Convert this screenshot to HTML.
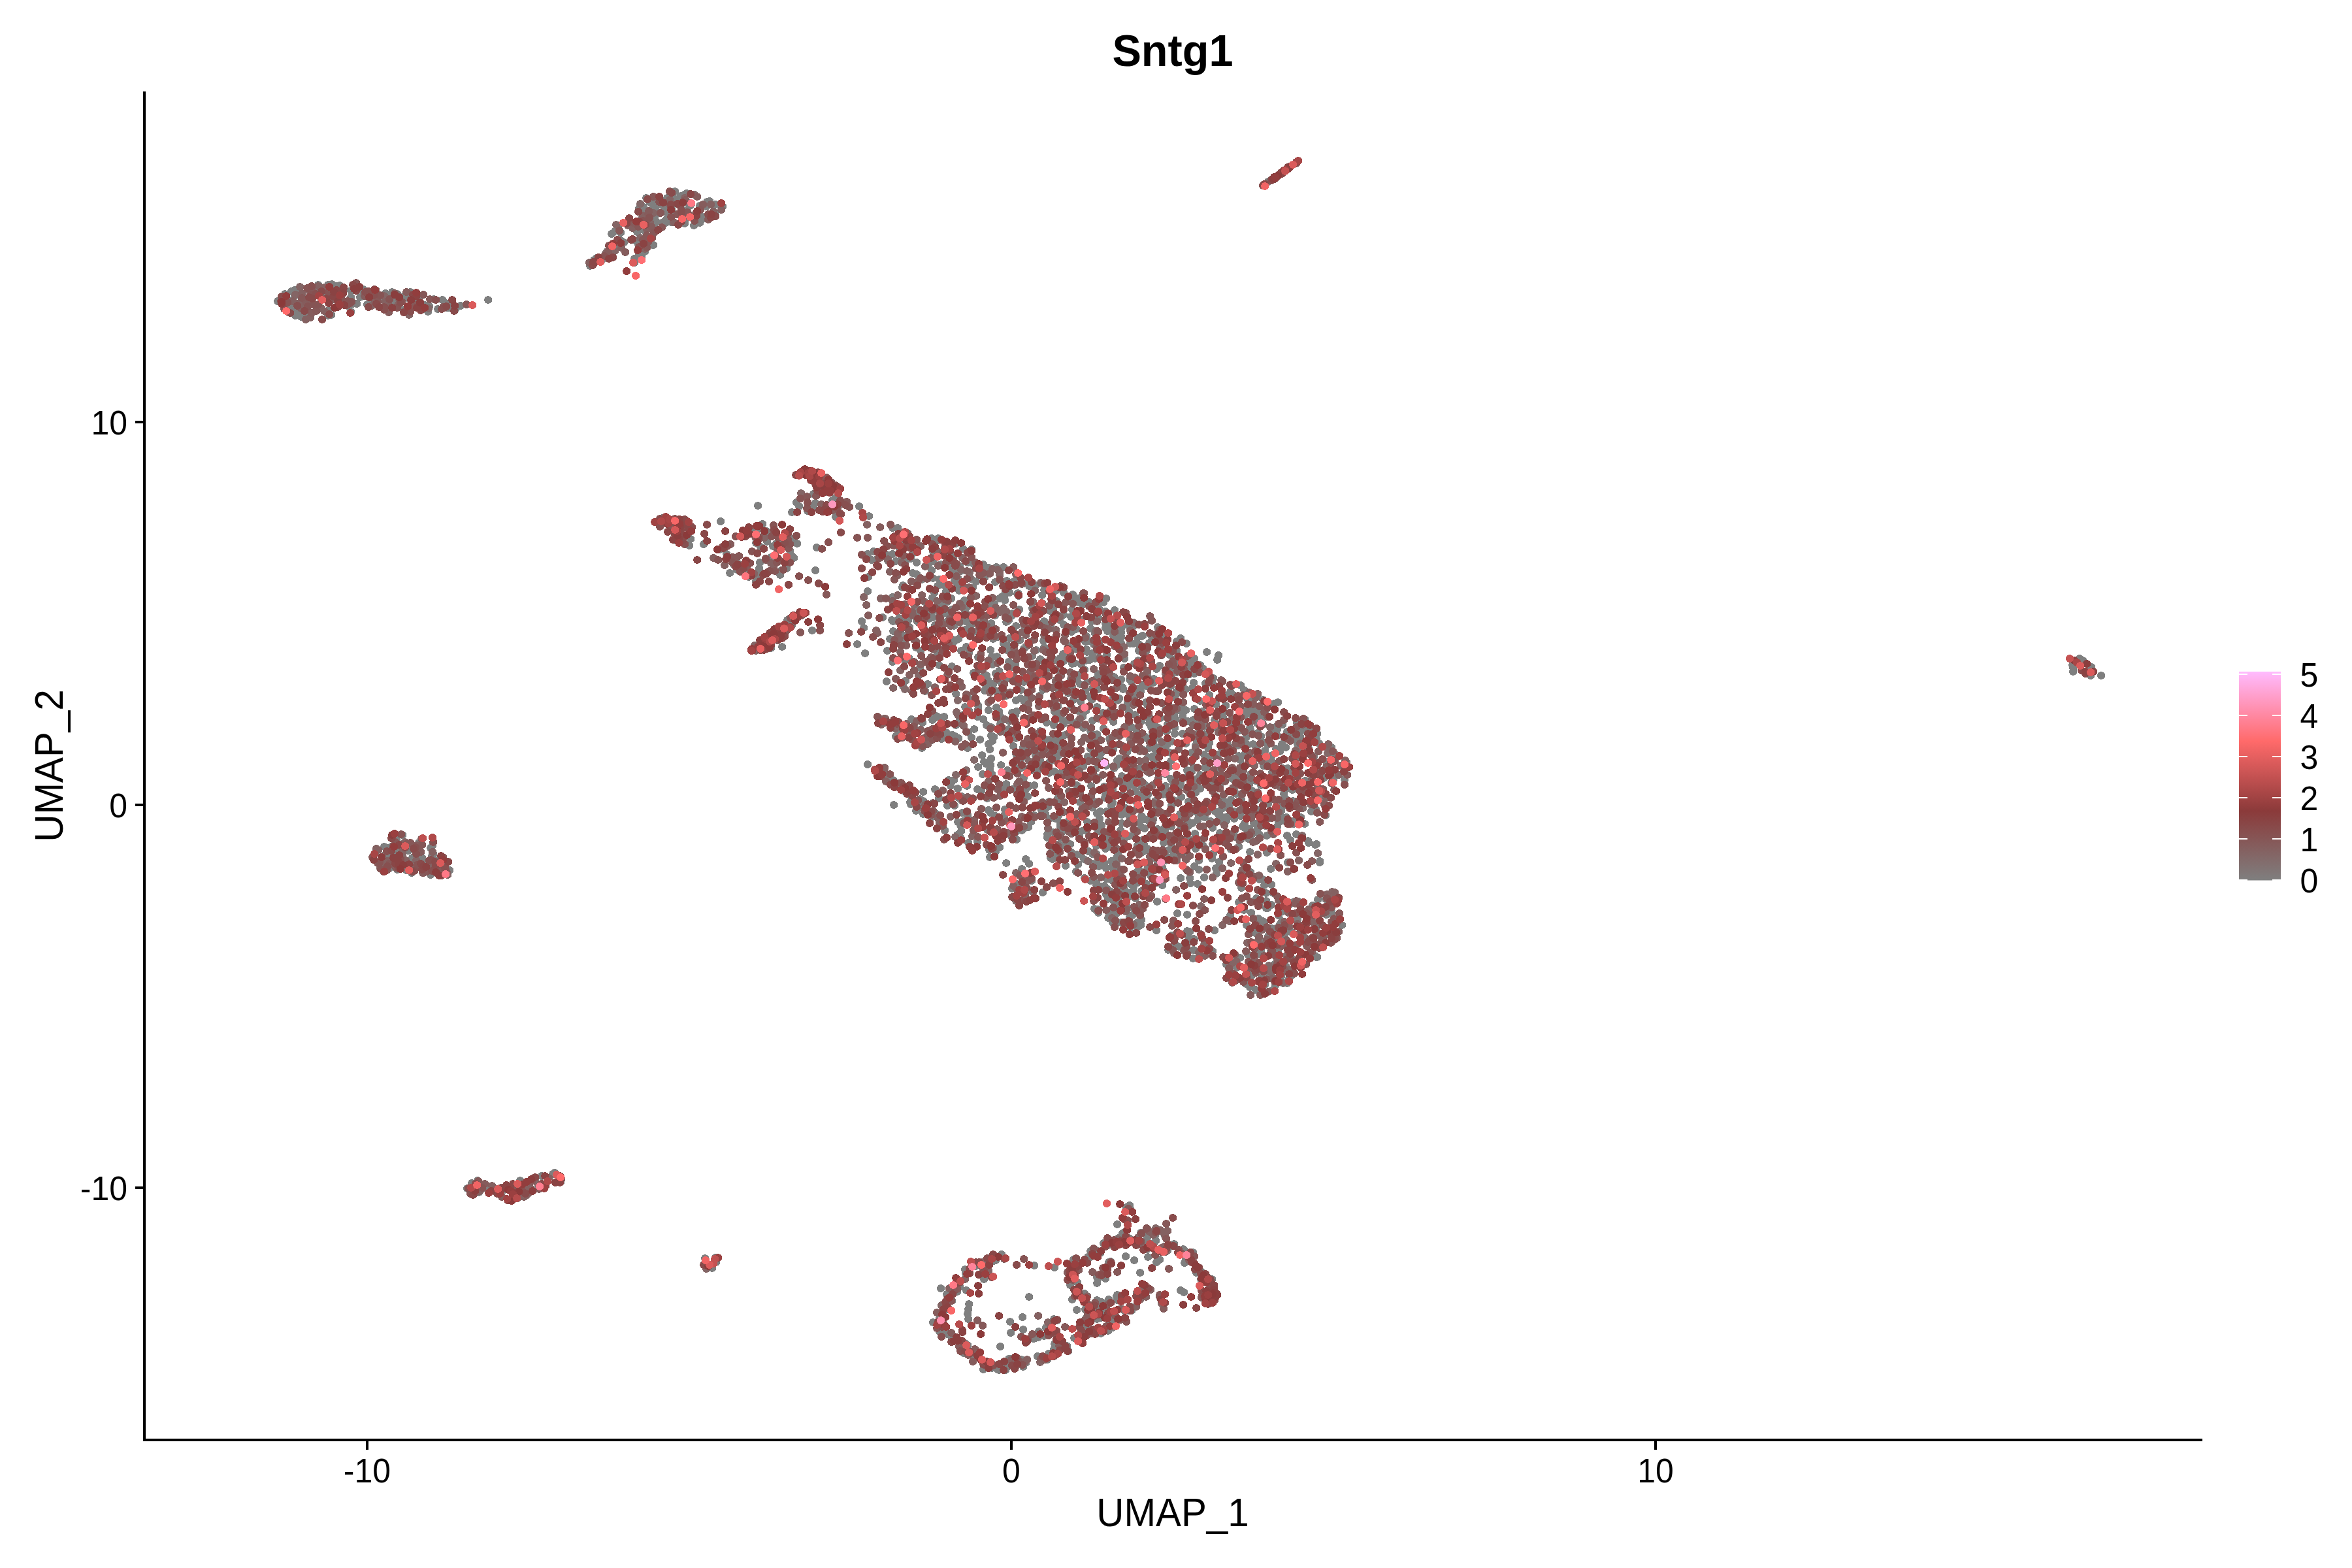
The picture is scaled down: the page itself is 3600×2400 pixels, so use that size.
<!DOCTYPE html>
<html lang="en"><head><meta charset="utf-8"><title>Sntg1</title>
<style>html,body{margin:0;padding:0;background:#fff}svg{display:block}</style></head>
<body>
<svg width="3600" height="2400" viewBox="0 0 3600 2400">
<rect x="0" y="0" width="3600" height="2400" fill="#fff"/>
<g fill="#000" shape-rendering="crispEdges">
<rect x="219" y="140" width="4" height="2066"/>
<rect x="219" y="2202" width="3152" height="4"/>
<rect x="207" y="644" width="12" height="4"/>
<rect x="207" y="1230" width="12" height="4"/>
<rect x="207" y="1816" width="12" height="4"/>
<rect x="560" y="2206" width="4" height="12.5"/>
<rect x="1546" y="2206" width="4" height="12.5"/>
<rect x="2532" y="2206" width="4" height="12.5"/>
</g>
<g font-family="'Liberation Sans', Arial, sans-serif" fill="#000">
<text transform="translate(1795 101) scale(1 1.04)" font-size="66.67" text-anchor="middle" font-weight="bold">Sntg1</text>
<text transform="translate(195 664.6) scale(1 1.04)" font-size="50" text-anchor="end">10</text>
<text transform="translate(195 1250.6) scale(1 1.04)" font-size="50" text-anchor="end">0</text>
<text transform="translate(195 1836.6) scale(1 1.04)" font-size="50" text-anchor="end">-10</text>
<text transform="translate(562 2269) scale(1 1.04)" font-size="50" text-anchor="middle">-10</text>
<text transform="translate(1548 2269) scale(1 1.04)" font-size="50" text-anchor="middle">0</text>
<text transform="translate(2534 2269) scale(1 1.04)" font-size="50" text-anchor="middle">10</text>
<text transform="translate(1795 2336) scale(1 1.04)" font-size="58.33" text-anchor="middle">UMAP_1</text>
<text transform="translate(95.5 1172) rotate(-90) scale(1 1.04)" font-size="58.33" text-anchor="middle">UMAP_2</text>
<text transform="translate(3520.5 1365.8) scale(1 1.04)" font-size="50" text-anchor="start">0</text>
<text transform="translate(3520.5 1302.8) scale(1 1.04)" font-size="50" text-anchor="start">1</text>
<text transform="translate(3520.5 1239.8) scale(1 1.04)" font-size="50" text-anchor="start">2</text>
<text transform="translate(3520.5 1176.8) scale(1 1.04)" font-size="50" text-anchor="start">3</text>
<text transform="translate(3520.5 1113.8) scale(1 1.04)" font-size="50" text-anchor="start">4</text>
<text transform="translate(3520.5 1050.8) scale(1 1.04)" font-size="50" text-anchor="start">5</text>
</g>
<defs><linearGradient id="lg" x1="0" y1="1" x2="0" y2="0"><stop offset="0" stop-color="#7f7f7f"/><stop offset="0.3333" stop-color="#8b3a3a"/><stop offset="0.6667" stop-color="#ff6a6a"/><stop offset="1" stop-color="#ffbbff"/></linearGradient></defs>
<rect x="3427" y="1028" width="64" height="319.5" fill="url(#lg)"/>
<g fill="#fff" shape-rendering="crispEdges">
<rect x="3427" y="1346" width="12.8" height="2"/>
<rect x="3478.2" y="1346" width="12.8" height="2"/>
<rect x="3427" y="1283" width="12.8" height="2"/>
<rect x="3478.2" y="1283" width="12.8" height="2"/>
<rect x="3427" y="1220" width="12.8" height="2"/>
<rect x="3478.2" y="1220" width="12.8" height="2"/>
<rect x="3427" y="1157" width="12.8" height="2"/>
<rect x="3478.2" y="1157" width="12.8" height="2"/>
<rect x="3427" y="1094" width="12.8" height="2"/>
<rect x="3478.2" y="1094" width="12.8" height="2"/>
<rect x="3427" y="1031" width="12.8" height="2"/>
<rect x="3478.2" y="1031" width="12.8" height="2"/>
</g>
<g fill="none" stroke-width="12" stroke-linecap="round" shape-rendering="crispEdges">
<path stroke="#7f7f7f" d="M1595 923h.1M598 1324h.1M1807 977h.1M1640 1946h.1M1524 1303h.1M1998 1195h.1M1549 1360h.1M829 1800h.1M1095 327h.1M999 375h.1M1913 1114h.1M1931 1100h.1M1520 978h.1M1889 1112h.1M1647 1334h.1M955 371h.1M1881 1144h.1M1826 1242h.1M1773 1057h.1M1778 972h.1M1596 1038h.1M1227 726h.1M2037 1427h.1M1482 2004h.1M788 1819h.1M1720 1896h.1M524 449h.1M1510 1034h.1M787 1818h.1M1648 2005h.1M1366 848h.1M1648 1202h.1M1577 1149h.1M1773 1114h.1M2015 1465h.1M1546 2023h.1M1921 1428h.1M661 1318h.1M1899 1249h.1M1386 858h.1M1394 855h.1M641 460h.1M978 387h.1M1556 1285h.1M903 407h.1M1807 1269h.1M1947 1156h.1M1102 841h.1M1324 1000h.1M1991 1251h.1M1947 1182h.1M931 389h.1M1157 831h.1M1806 1293h.1M1832 1104h.1M982 394h.1M624 1296h.1M1926 1101h.1M941 354h.1M1867 1275h.1M1810 1123h.1M1369 1198h.1M1685 2017h.1M1861 1329h.1M1898 1466h.1M1459 856h.1M1487 1129h.1M1822 1930h.1M1793 1298h.1M502 483h.1M1784 1086h.1M1480 929h.1M1283 774h.1M1489 899h.1M1879 1064h.1M1682 932h.1M1402 991h.1M1215 854h.1M1796 1309h.1M616 1292h.1M1837 1073h.1M1926 1516h.1M1566 1144h.1M1580 931h.1M1524 1249h.1M1754 1366h.1M1630 1295h.1M1540 1065h.1M1801 996h.1M1337 844h.1M1188 832h.1M815 1804h.1M1715 1341h.1M1248 873h.1M1860 1218h.1M1537 2084h.1M1491 967h.1M1554 1094h.1M1827 1437h.1M1855 1958h.1M1870 1091h.1M1686 1263h.1M1945 1199h.1M1820 1455h.1M1728 1390h.1M1540 1206h.1M1539 1121h.1M667 1317h.1M1647 1157h.1M1947 1516h.1M1896 1381h.1M1186 973h.1M1816 1190h.1M1799 1064h.1M662 1294h.1M1702 1398h.1M1990 1232h.1M1541 889h.1M1675 1391h.1M1845 1124h.1M1758 1009h.1M1662 2018h.1M1946 1385h.1M1859 1424h.1M1436 824h.1M1953 1423h.1M1902 1265h.1M1940 1390h.1M1867 1109h.1M1890 1271h.1M1004 316h.1M1908 1196h.1M1564 1330h.1M1090 1941h.1M1946 1164h.1M1716 975h.1M1022 326h.1M517 462h.1M1599 1245h.1M1180 853h.1M1710 1874h.1M1807 1344h.1M1710 1284h.1M1970 1279h.1M1890 1269h.1M1071 341h.1M1086 308h.1M1530 2091h.1M1664 1044h.1M1679 1124h.1M1394 1231h.1M1938 1390h.1M1930 1456h.1M1668 1010h.1M1515 1147h.1M1985 1106h.1M1936 1507h.1M537 445h.1M1650 1980h.1M1963 1395h.1M1481 1145h.1M1938 1367h.1M659 1298h.1M537 455h.1M1554 1274h.1M1926 1406h.1M1794 1432h.1M601 1302h.1M1718 1888h.1M1554 1016h.1M1779 1355h.1M1807 1196h.1M1963 1256h.1M1786 1283h.1M438 468h.1M1607 1145h.1M1591 1142h.1M1827 1454h.1M1765 1045h.1M1678 1352h.1M1437 932h.1M1683 1133h.1M1817 1179h.1M1117 877h.1M1895 1119h.1M705 468h.1M1615 1146h.1M1967 1222h.1M1766 1039h.1M1712 1895h.1M1000 316h.1M631 1313h.1M1485 954h.1M446 446h.1M1444 1124h.1M1792 1192h.1M2040 1183h.1M1049 297h.1M1141 863h.1M1633 2060h.1M1674 986h.1M1455 977h.1M1386 949h.1M1914 1118h.1M647 1329h.1M1570 2086h.1M1483 1254h.1M3201 1021h.1M1473 1244h.1M1732 1428h.1M2009 1386h.1M1437 1098h.1M1613 1108h.1M1034 305h.1M1278 763h.1M1721 1362h.1M1482 1121h.1M2049 1186h.1M1648 994h.1M1829 1276h.1M1478 2058h.1M1451 2002h.1M1167 802h.1M1977 1427h.1M628 447h.1M1957 1259h.1M1949 1485h.1M1428 844h.1M1827 1045h.1M1553 986h.1M1617 1311h.1M1585 896h.1M1867 1248h.1M987 385h.1M855 1800h.1M1731 1255h.1M1949 1367h.1M1670 1203h.1M1658 1173h.1M1964 1505h.1M1560 933h.1M1755 1223h.1M1856 1232h.1M1843 1155h.1M1106 316h.1M1811 1912h.1M1693 916h.1M1976 1194h.1M1533 1920h.1M1437 1222h.1M1669 1915h.1M1609 1131h.1M983 333h.1M2003 1290h.1M1530 1031h.1M630 1336h.1M1677 1189h.1M1883 1401h.1M1376 838h.1M989 336h.1M1567 957h.1M1773 1184h.1M1505 864h.1M1545 907h.1M2041 1193h.1M1730 1072h.1M1592 1231h.1M1972 1234h.1M2037 1399h.1M1048 821h.1M1878 1137h.1M1497 1174h.1M1600 2081h.1M1830 1299h.1M1828 1438h.1M525 440h.1M1016 317h.1M1644 2048h.1M1893 1481h.1M1818 1257h.1M1471 1272h.1M599 1296h.1M531 465h.1M1817 1026h.1M1452 1194h.1M1779 1328h.1M1788 1454h.1M1529 2097h.1M1496 1097h.1M1933 1071h.1M1954 1464h.1M1621 1292h.1M1408 1223h.1M1592 1165h.1M980 321h.1M1649 1963h.1M1986 1139h.1M1212 784h.1M1964 1230h.1M1564 1175h.1M1822 1215h.1M1931 1495h.1M1793 1135h.1M1678 1354h.1M1672 1225h.1M1442 2012h.1M1884 1300h.1M1950 1120h.1M1677 1040h.1M1393 1228h.1M1654 1074h.1M1095 313h.1M1681 1055h.1M1807 1916h.1M1236 782h.1M1403 950h.1M1856 1267h.1M1566 2035h.1M1756 1912h.1M1465 1278h.1M2018 1387h.1M1844 1988h.1M1730 1353h.1M1730 1094h.1M1909 1069h.1M1521 1930h.1M1689 1115h.1M1700 1931h.1M1389 816h.1M1369 821h.1M1978 1209h.1M1917 1276h.1M1639 1257h.1M1602 1106h.1M1717 1247h.1M1736 1929h.1M1806 1915h.1M624 456h.1M3172 1018h.1M1925 1122h.1M1394 968h.1M451 444h.1M1759 1145h.1M576 450h.1M1819 1227h.1M1049 335h.1M1697 1932h.1M1469 1101h.1M1831 1202h.1M1863 1010h.1M1525 1083h.1M1618 1097h.1M1534 913h.1M2027 1220h.1M1406 941h.1M1830 1213h.1M1618 2021h.1M1963 1109h.1M1426 873h.1M1706 934h.1M1655 1017h.1M1455 847h.1M2039 1156h.1M1946 1421h.1M1735 985h.1M1197 990h.1M1475 2071h.1M1783 1266h.1M1904 1089h.1M1209 954h.1M1680 2001h.1M1500 951h.1M1900 1215h.1M1462 1127h.1M1697 1989h.1M1749 1048h.1M2019 1208h.1M1786 1140h.1M1641 1148h.1M1703 2032h.1M1913 1093h.1M1747 974h.1M1209 843h.1M1764 1258h.1M1616 1152h.1M1558 1179h.1M1807 1975h.1M1430 907h.1M1474 840h.1M651 1323h.1M1571 1159h.1M1888 1177h.1M2029 1376h.1M1351 1180h.1M1505 1936h.1M1623 1259h.1M559 453h.1M1710 1164h.1M1714 1904h.1M1939 1279h.1M1793 1265h.1M1778 1003h.1M1328 1170h.1M1685 1069h.1M1716 985h.1M1710 1990h.1M1628 1012h.1M1555 1072h.1M466 457h.1M1640 992h.1M1543 996h.1M1366 1013h.1M1723 1419h.1M1713 1161h.1M1683 981h.1M1838 1946h.1M1519 1017h.1M1612 931h.1M1739 1117h.1M1856 1456h.1M1776 1099h.1M1905 1095h.1M619 453h.1M1783 1272h.1M1931 1512h.1M1756 1033h.1M1913 1283h.1M1441 2009h.1M1840 1089h.1M1056 315h.1M1818 1285h.1M1686 1993h.1M1730 1132h.1M1755 1203h.1M1497 1080h.1M1513 1139h.1M1463 1062h.1M1870 1146h.1M1708 985h.1M1696 1038h.1M1820 1442h.1M1729 1853h.1M1538 1239h.1M1795 1434h.1M1545 1104h.1M1667 1160h.1M980 374h.1M1736 1193h.1M978 391h.1M1580 1004h.1M1740 1981h.1M1539 906h.1M1511 2092h.1M1780 1216h.1M1194 880h.1M1422 947h.1M1941 1230h.1M1728 1895h.1M1607 1253h.1M1723 1237h.1M681 1329h.1M1621 2046h.1M1509 1049h.1M1637 1960h.1M1787 1217h.1M1465 1977h.1M1623 1265h.1M1418 1240h.1M1751 1200h.1M1245 777h.1M1669 962h.1M682 464h.1M1826 1102h.1M1973 1385h.1M1572 1067h.1M1626 2062h.1M1738 1375h.1M1733 1401h.1M1513 1240h.1M1496 1208h.1M1746 1982h.1M1826 1917h.1M1787 1109h.1M1381 899h.1M1491 1031h.1M1509 1169h.1M1785 1885h.1M1767 1173h.1M685 471h.1M1619 1157h.1M1433 1096h.1M1964 1233h.1M1961 1241h.1M1716 968h.1M1472 971h.1M1809 1255h.1M1760 1047h.1M1672 1998h.1M591 1308h.1M1524 1031h.1M1540 1200h.1M1696 2037h.1M1922 1515h.1M1552 972h.1M1270 749h.1M1819 1427h.1M1815 1310h.1M1944 1252h.1M1928 1281h.1M1460 1194h.1M1547 2040h.1M1892 1215h.1M1938 1379h.1M1663 1272h.1M1457 1020h.1M1898 1163h.1M1801 1029h.1M1477 964h.1M1795 1197h.1M1537 912h.1M1729 1845h.1M1617 1097h.1M540 465h.1M1128 872h.1M1762 1113h.1M1015 340h.1M1653 1933h.1M1771 1303h.1M1942 1488h.1M1968 1446h.1M1540 952h.1M1743 996h.1M1769 1899h.1M1450 951h.1M1701 1277h.1M490 440h.1M1973 1498h.1M1997 1261h.1M1756 1299h.1M1411 1145h.1M1486 914h.1M1689 1273h.1M1541 1241h.1M1601 1132h.1M1478 1949h.1M1912 1200h.1M1851 1966h.1M1762 1248h.1M1512 1041h.1M1927 1385h.1M1936 1156h.1M1790 1002h.1M1637 920h.1M2014 1239h.1M1737 1132h.1M1740 1978h.1M1426 1133h.1M2061 1167h.1M1706 1141h.1M1474 2060h.1M1369 979h.1M1969 1251h.1M1607 962h.1M1393 974h.1M1643 1928h.1M625 1302h.1M909 398h.1M1416 1058h.1M1667 2015h.1M1800 1447h.1M796 1807h.1M1746 1416h.1M1578 898h.1M1630 1125h.1M1377 1205h.1M1460 863h.1M1180 992h.1M1453 1125h.1M1516 1012h.1M1688 1321h.1M1886 1184h.1M1795 1449h.1M1916 1229h.1M1479 1975h.1M1603 2032h.1M1647 963h.1M1905 1267h.1M1262 734h.1M1351 945h.1M1647 1174h.1M1485 959h.1M1729 1404h.1M1904 1393h.1M1531 1097h.1M1448 2040h.1M1664 998h.1M1548 943h.1M1271 740h.1M1808 1081h.1M974 341h.1M1737 1094h.1M1605 993h.1M1792 1050h.1M1692 1215h.1M1183 836h.1M2020 1320h.1M2012 1227h.1M1845 1957h.1M1876 1080h.1M618 474h.1M1934 1262h.1M1457 1991h.1M1965 1215h.1M1705 1036h.1M1835 1331h.1M1741 1351h.1M1765 1138h.1M1397 847h.1M1809 1049h.1M1443 895h.1M448 464h.1M1780 1332h.1M1702 1326h.1M1555 1154h.1M1558 908h.1M1516 995h.1M1605 2072h.1M1471 1284h.1M1887 1209h.1M1660 1980h.1M1630 1008h.1M1843 1106h.1M1928 1346h.1M1902 1172h.1M1889 1253h.1M1839 1108h.1M1548 2088h.1M1713 1127h.1M1732 1044h.1M1837 1018h.1M1176 821h.1M1619 1222h.1M1583 1248h.1M1779 1330h.1M1881 1233h.1M1513 1087h.1M1376 813h.1M1905 1155h.1M1721 1886h.1M1774 1145h.1M1757 1216h.1M1163 861h.1M659 1339h.1M1490 2076h.1M1662 1011h.1M1446 978h.1M1444 994h.1M1669 1119h.1M600 447h.1M1681 1318h.1M1450 1233h.1M1357 1043h.1M1378 831h.1M1000 375h.1M1554 1352h.1M1564 1271h.1M1980 1261h.1M1556 2090h.1M1623 1240h.1M1243 965h.1M1420 1047h.1M677 459h.1M1671 2035h.1M1821 1426h.1M1480 2066h.1M1142 880h.1M1815 1087h.1M1997 1114h.1M1730 1851h.1M1077 833h.1M1466 1207h.1M1531 2061h.1M1851 1990h.1M1505 1101h.1M1970 1207h.1M1158 880h.1M788 1821h.1M1731 2000h.1M1982 1256h.1M1848 1177h.1M1450 938h.1M1536 985h.1M1690 1356h.1M1681 1032h.1M568 463h.1M1851 1064h.1M1740 1335h.1M1714 1120h.1M1481 2011h.1M1096 1932h.1M1640 988h.1M1690 1282h.1M1454 868h.1M1035 328h.1M1692 2008h.1M1702 1073h.1M1933 1410h.1M985 352h.1M1904 1056h.1M1797 1021h.1M1527 975h.1M1813 1040h.1M1212 957h.1M1594 1176h.1M1837 1186h.1M1466 895h.1M1768 1226h.1M3173 1022h.1M1450 921h.1M1547 2080h.1M1413 1212h.1M1385 983h.1M1442 922h.1M1748 1286h.1M1988 1380h.1M1472 1225h.1M2004 1460h.1M1197 831h.1M1841 1244h.1M1937 1087h.1M1887 1100h.1M1905 1260h.1M1521 1128h.1M1368 1232h.1M1474 1257h.1M1968 1479h.1M1789 1174h.1M1634 1102h.1M1975 1188h.1M1212 825h.1M1833 1353h.1M1834 1246h.1M1629 1057h.1M1519 1134h.1M1619 1129h.1M1543 2083h.1M1811 1024h.1M1927 1277h.1M1864 1114h.1M1662 2005h.1M2001 1397h.1M1582 1141h.1M1679 1994h.1M589 1309h.1M1836 1021h.1M1854 1991h.1M1712 973h.1M1440 1972h.1M443 461h.1M1640 967h.1M1567 993h.1M1592 1009h.1M1704 973h.1M1816 985h.1M1487 841h.1M1442 975h.1M1550 939h.1M1924 1270h.1M1717 1360h.1M1011 803h.1M655 477h.1M1920 1162h.1M1312 986h.1M1357 849h.1M1597 981h.1M502 436h.1M1540 1039h.1M1751 1293h.1M1491 1278h.1M1831 1124h.1M1511 1952h.1M1747 1249h.1M1872 1099h.1M1833 1467h.1M1625 1182h.1M715 1819h.1M1371 1127h.1M2030 1166h.1M1419 934h.1M1705 1333h.1M1991 1157h.1M1583 1937h.1M1604 1235h.1M1448 1121h.1M1690 1204h.1M1704 1147h.1M608 450h.1M631 1325h.1M1815 1138h.1M1669 1348h.1M1868 1222h.1M1626 1273h.1M607 1284h.1M1716 1412h.1M1766 1903h.1M1623 1029h.1M1529 1089h.1M1856 1047h.1M1824 1152h.1M1676 1008h.1M1922 1238h.1M1875 1227h.1M1757 1924h.1M1553 1037h.1M1057 825h.1M1752 1268h.1M1648 1308h.1M1587 1181h.1M1246 757h.1M1851 1137h.1M650 467h.1M1554 1175h.1M1710 1982h.1M1014 793h.1M1351 1183h.1M1901 1138h.1M1173 813h.1M586 454h.1M1682 1168h.1M1955 1126h.1M1545 977h.1M1515 1312h.1M1784 1119h.1M1741 1294h.1M1503 1156h.1M1644 1938h.1M1804 1017h.1M1490 1030h.1M1828 1031h.1M1480 1203h.1M1705 975h.1M1623 1007h.1M1719 1055h.1M1768 1102h.1M1365 1108h.1M1711 1072h.1M1172 977h.1M1867 1203h.1M1463 1110h.1M1639 944h.1M646 1316h.1M1567 893h.1M946 349h.1M1741 976h.1M1220 832h.1M3173 1028h.1M950 356h.1M1620 1248h.1M1021 334h.1M1668 1066h.1M1727 1224h.1M1825 1053h.1M1391 1007h.1M1668 2002h.1M1735 1357h.1M1123 864h.1M1245 756h.1M1401 836h.1M1911 1284h.1M913 395h.1M1915 1506h.1M1641 933h.1M1786 1302h.1M1966 1433h.1M1959 1150h.1M1755 1353h.1M1835 1317h.1M1735 1202h.1M1514 1301h.1M1648 916h.1M1467 978h.1M1959 1415h.1M1747 1408h.1M1693 1329h.1M1849 1145h.1M612 1307h.1M1700 1087h.1M1557 1214h.1M1219 769h.1M1832 1192h.1M1494 890h.1M1538 1060h.1M1754 997h.1M1623 1129h.1M1190 962h.1M1661 1057h.1M1717 1260h.1M1701 1099h.1M1567 1073h.1M1628 941h.1M976 372h.1M1926 1090h.1M1896 1296h.1M1859 1981h.1M1158 878h.1M1250 838h.1M1970 1121h.1M1562 1069h.1M1799 1009h.1M1607 935h.1M1579 1179h.1M1412 1106h.1M1935 1355h.1M1510 1110h.1M1865 1003h.1M1953 1146h.1M1941 278h.1M1636 1211h.1M1721 1008h.1M2038 1396h.1M2026 1191h.1M944 376h.1M1575 1037h.1M1908 1416h.1M1499 1933h.1M1769 1121h.1M1924 1461h.1M1160 774h.1M1731 2003h.1M1681 1392h.1M1540 990h.1M1617 920h.1M1696 939h.1M1734 959h.1M1740 1229h.1M1742 1011h.1M1641 1052h.1M1264 753h.1M1631 1325h.1M1544 949h.1M1767 1108h.1M1752 1254h.1M944 373h.1M1756 1894h.1M1404 1050h.1M1675 2004h.1M1672 1322h.1M1743 1180h.1M1733 1065h.1M971 402h.1M593 1301h.1M1033 827h.1M1962 1423h.1M3216 1034h.1M464 482h.1M1750 1907h.1M1431 1208h.1M1840 1113h.1M2010 1135h.1M1540 1321h.1M2042 1161h.1M2011 1409h.1M1762 973h.1M1764 1158h.1M1984 1277h.1M595 1314h.1M1692 954h.1M1728 1116h.1M1855 1982h.1M1002 335h.1M1592 1119h.1M1695 966h.1M1409 996h.1M1523 942h.1M1920 1086h.1M1051 296h.1M925 393h.1M1685 1357h.1M1932 1443h.1M1103 798h.1M1384 973h.1M1491 1116h.1M1864 1155h.1M601 461h.1M1825 1260h.1M2011 1158h.1M1833 1139h.1M1728 2006h.1M590 449h.1M1452 832h.1M1279 791h.1M1892 1138h.1M1506 1958h.1M1756 1079h.1M1415 921h.1M1735 1278h.1M1613 1110h.1M1614 1940h.1M1679 1964h.1M1728 1089h.1M1408 1022h.1M1790 1024h.1M1157 890h.1M1661 982h.1M1563 2081h.1M1716 1040h.1M1950 1077h.1M1678 1295h.1M1095 1925h.1M1716 961h.1M1542 951h.1M646 1313h.1M1428 2024h.1M1671 951h.1M1713 1069h.1M1562 1165h.1M747 459h.1M1642 1939h.1M597 1297h.1M537 477h.1M1567 1190h.1M1676 970h.1M1544 2091h.1M1676 1132h.1M1759 1107h.1M1693 1172h.1M1899 1049h.1M922 397h.1M608 1331h.1M1808 1220h.1M1700 1900h.1M1727 1204h.1M2038 1144h.1M1941 1433h.1M1882 1470h.1M1628 956h.1M1639 1039h.1M1518 2094h.1M1406 953h.1M1997 1101h.1M1756 1330h.1M1718 1052h.1M1588 2076h.1M1916 1474h.1M1033 293h.1M2017 1377h.1M1130 863h.1M1742 1054h.1M1488 1072h.1M1793 1432h.1M1411 939h.1M1745 1322h.1M1772 1269h.1M1679 925h.1M933 394h.1M1918 1139h.1M1503 1036h.1M2009 1118h.1M1184 973h.1M1395 1101h.1M1806 1060h.1M1797 1225h.1M1679 2019h.1M1665 2037h.1M1021 303h.1M1679 1082h.1M1455 978h.1M1979 1468h.1M1671 2035h.1M1694 1002h.1M1386 1042h.1M1071 315h.1M1831 1948h.1M1428 1101h.1M1667 1222h.1M1821 1215h.1M1672 1054h.1M1743 986h.1M1390 949h.1M1538 919h.1M1699 958h.1M1739 1239h.1M1427 915h.1M1854 1977h.1M1438 2038h.1M1530 1297h.1M1727 1194h.1M1577 1363h.1M2010 1230h.1M1793 1108h.1M1476 919h.1M1392 960h.1M1511 1270h.1M1590 2038h.1M1750 1366h.1M1732 1113h.1M1723 1170h.1M1542 1179h.1M1759 984h.1M1949 1477h.1M1614 1181h.1M1504 1185h.1M1679 1990h.1M1684 1242h.1M1537 1248h.1M461 485h.1M1844 1251h.1M1939 1305h.1M1457 933h.1M670 473h.1M1715 1194h.1M1786 1312h.1M1048 322h.1M1893 1282h.1M1737 1351h.1M1775 1019h.1M1657 1097h.1M1761 1340h.1M469 483h.1M1746 1887h.1M1028 320h.1M1871 1258h.1M1499 1934h.1M1885 1111h.1M1651 1249h.1M1929 1255h.1M1587 1153h.1M1823 1286h.1M1551 891h.1M1989 1152h.1M1859 1102h.1M1752 1886h.1M1382 896h.1M1824 1181h.1M1685 1153h.1M1413 1138h.1M1511 1930h.1M1986 1208h.1M1845 1046h.1M1807 1202h.1M858 1809h.1M1603 1023h.1M1585 2048h.1M1539 2097h.1M1895 1190h.1M1817 1025h.1M1940 1140h.1M1771 1380h.1M1931 1135h.1M1681 1397h.1M1334 857h.1M1365 949h.1M1982 1168h.1M1787 1914h.1M1875 1235h.1M1477 2056h.1M1526 1005h.1M1173 987h.1M1621 1059h.1M1452 1222h.1M1031 327h.1M1613 2065h.1M1159 811h.1M1691 1221h.1M819 1808h.1M1896 1105h.1M1319 951h.1M1952 1508h.1M1164 880h.1M1728 1367h.1M1653 1047h.1M1048 342h.1M1724 1848h.1M1208 951h.1M1749 973h.1M1412 1226h.1M661 1310h.1M1847 998h.1M1810 1096h.1M1518 1005h.1M1836 1287h.1M1788 1281h.1M1874 1090h.1M1703 1208h.1M1251 751h.1M746 1820h.1M1594 1247h.1M1594 1011h.1M1612 1274h.1M1692 936h.1M1701 2024h.1M1594 1128h.1M622 1332h.1M1461 889h.1M1578 1258h.1M1459 874h.1M1358 996h.1M1375 1199h.1M803 1827h.1M1694 1345h.1M1783 1892h.1M624 469h.1M1860 1242h.1M1911 1085h.1M1437 1018h.1M1930 1127h.1M1684 1361h.1M1696 1395h.1M3183 1008h.1M1616 1253h.1M1606 1227h.1M1395 1219h.1M1612 1139h.1M1831 1132h.1M1610 979h.1M1055 835h.1M1661 2023h.1M1328 848h.1M1727 1247h.1M1925 1223h.1M1452 838h.1M1511 1222h.1M1582 2049h.1M1970 1426h.1M663 1307h.1M1223 775h.1M1463 832h.1M1634 1947h.1M1910 1461h.1M1681 1272h.1M1619 1081h.1M1975 1286h.1M1855 1967h.1M1752 1127h.1M1586 995h.1M1836 1192h.1M451 453h.1M1728 1280h.1M1403 861h.1M1817 1425h.1M1515 1178h.1M1827 1174h.1M1434 998h.1M1196 873h.1M1912 1269h.1M1936 1149h.1M1913 1069h.1M1517 1161h.1M1622 949h.1M1888 1496h.1M1828 1085h.1M1531 1108h.1M1377 1119h.1M1699 1364h.1M1662 1088h.1M936 358h.1M1063 336h.1M1786 1119h.1M460 483h.1M1715 1271h.1M1456 2046h.1M1036 306h.1M1478 1191h.1M1556 1089h.1M2029 1248h.1M1776 1276h.1M1674 2036h.1M2002 1287h.1M2016 1465h.1M1615 1010h.1M1655 949h.1M1079 1926h.1M1505 2096h.1M1513 869h.1M1589 2047h.1M1689 922h.1M1608 955h.1M1620 1092h.1M659 1324h.1M1920 1226h.1M1622 1146h.1M1957 1401h.1M1682 1272h.1M1902 1089h.1M1704 1068h.1M1678 1307h.1M1769 1314h.1M1635 1061h.1M1672 1236h.1M1830 1944h.1M1995 1435h.1M1962 1441h.1M1147 878h.1M1752 990h.1M1709 1217h.1M849 1795h.1M1671 1071h.1M1984 1399h.1M1493 1938h.1M1698 2018h.1M1375 1129h.1M487 436h.1M1567 1100h.1M1608 1313h.1M642 470h.1M846 1797h.1M1808 1920h.1M1501 942h.1M1914 1486h.1M1538 2094h.1M1784 1208h.1M1566 1197h.1M1517 954h.1M1732 2006h.1M445 479h.1M1644 1953h.1M1596 1053h.1M1841 1294h.1M601 456h.1M1647 986h.1M1845 1299h.1M1004 309h.1M1769 1240h.1M1051 309h.1M1142 875h.1M1802 1398h.1M1548 1280h.1M447 459h.1M1701 1347h.1M1709 1313h.1M1750 1148h.1M551 455h.1M1596 1228h.1M1952 1113h.1M1672 1000h.1M1935 1414h.1M1374 972h.1M1440 928h.1M1075 332h.1M1672 1307h.1M1580 941h.1M1855 1314h.1M1518 1924h.1M722 1811h.1M1857 1038h.1M1709 981h.1M1659 1315h.1M1518 1185h.1M1837 1286h.1M1414 962h.1M1577 982h.1M1721 2006h.1M1815 1253h.1M1663 994h.1M1755 1130h.1M1792 1165h.1M1403 931h.1M1146 883h.1M1616 1041h.1M452 483h.1M1001 329h.1M968 367h.1M1919 1260h.1M1411 887h.1M1623 1282h.1M1430 987h.1M1701 1318h.1M2058 1193h.1M1803 1256h.1M557 447h.1M2030 1400h.1M1579 1017h.1M726 1815h.1M1563 1353h.1M1730 985h.1M1551 1142h.1M1918 1162h.1M1757 1098h.1M1640 1083h.1M1643 1071h.1M1520 1047h.1M1710 1171h.1M1515 926h.1M1989 1229h.1M1466 885h.1M1030 340h.1M641 1290h.1M1500 1132h.1M1793 1297h.1M1669 1924h.1M1784 1185h.1M1823 1181h.1M1870 1251h.1M606 1298h.1M1483 1088h.1M1821 1344h.1M1557 909h.1M2017 1220h.1M1638 1292h.1M508 435h.1M1971 1320h.1M1362 978h.1M1672 1103h.1M1374 808h.1M1062 345h.1M1769 1149h.1M1654 1308h.1M1781 1290h.1M1472 1219h.1M1977 1493h.1M1797 1096h.1M1651 1103h.1M1438 2018h.1M1619 1137h.1M1005 340h.1M1426 939h.1M1532 1171h.1M1505 2088h.1M1734 1145h.1M1774 1122h.1M1978 1181h.1M978 319h.1M1711 1307h.1M1714 1386h.1M1770 1932h.1M1524 1929h.1M1642 1106h.1M1431 957h.1M2037 1393h.1M1809 1308h.1M1688 1091h.1M1447 939h.1M1455 1203h.1M1207 837h.1M2014 1464h.1M1703 1412h.1M1862 1337h.1M1164 837h.1M1469 867h.1M1646 1156h.1M1678 923h.1M1643 1942h.1M1428 986h.1M1821 1032h.1M503 475h.1M1663 2037h.1M1423 1247h.1M1475 1094h.1M1722 1219h.1M1776 1349h.1M1698 1296h.1M1747 1220h.1M1563 1056h.1M1883 1059h.1M1814 1915h.1M2038 1163h.1M971 396h.1M1481 1248h.1M2015 1292h.1M1848 1228h.1M584 1325h.1M1476 945h.1M565 455h.1M1456 916h.1M1502 1210h.1M1468 904h.1M1772 960h.1M1655 1111h.1M1979 1226h.1M1763 1256h.1M1521 2089h.1M1635 2068h.1M1744 1259h.1M1619 1229h.1M546 465h.1M1910 1140h.1M1470 1263h.1M1725 1151h.1M1709 1984h.1M1730 1372h.1M1384 1211h.1M1483 999h.1M1877 1290h.1M977 353h.1M1793 1068h.1M1452 1029h.1M1429 859h.1M1720 1284h.1M1759 1257h.1M1469 953h.1M1598 2045h.1M1576 1203h.1M1162 870h.1M1818 1011h.1M2046 1156h.1M562 466h.1M1591 1065h.1M1658 1114h.1M1878 1250h.1M1709 1323h.1M487 444h.1M1427 1102h.1M1684 1289h.1M1544 1013h.1M1698 1131h.1M1692 1299h.1M1376 946h.1M1413 1246h.1M1924 1142h.1M1653 915h.1M1837 1207h.1M1729 1040h.1M1649 1037h.1M1696 1405h.1M1639 1304h.1M1708 1354h.1M1677 1177h.1M1570 1315h.1M1480 2064h.1M1603 1277h.1M1367 1194h.1M1469 1281h.1M1426 824h.1M1381 987h.1M2015 1132h.1M1549 1126h.1M2038 1198h.1M1516 1171h.1M615 1298h.1M1441 1131h.1M1506 1166h.1M1756 1881h.1M1784 1146h.1M1853 1257h.1M1791 1908h.1M1559 912h.1M1616 904h.1M1653 1228h.1M1716 1343h.1M1815 1927h.1M1798 1114h.1M1828 1008h.1M1726 1078h.1M1830 1141h.1M524 450h.1M1482 1290h.1M1844 1175h.1M1445 1097h.1M1397 877h.1M1458 945h.1M1636 1256h.1M1841 1023h.1M1730 1255h.1M1174 829h.1M1695 1950h.1M1722 1196h.1M1027 340h.1M1428 945h.1M1768 1891h.1M1481 861h.1M1741 1063h.1M1686 1164h.1M1864 1204h.1M1641 1016h.1M1914 1185h.1M1857 1306h.1M1482 1068h.1M1561 980h.1M1717 1188h.1M436 450h.1M1927 1424h.1M1357 1191h.1M1371 1109h.1M1708 1399h.1M1760 1907h.1M1019 341h.1M1024 318h.1M3188 1011h.1M1428 885h.1M2038 1398h.1M1385 1011h.1M1770 1024h.1M1565 2016h.1M1613 2019h.1M1889 1242h.1M1937 1264h.1M1913 1304h.1M1386 1212h.1M452 472h.1M1760 1305h.1M1466 1258h.1M1480 952h.1M1523 891h.1M1436 827h.1M1443 925h.1M1421 863h.1M1507 884h.1M1601 1148h.1M1766 1163h.1M1477 1082h.1M588 1296h.1M688 1332h.1M1841 1249h.1M1660 1344h.1M1755 1050h.1M2010 1212h.1M1953 1456h.1M1087 313h.1M1479 990h.1M1711 1412h.1M1659 2031h.1M1985 1228h.1M1058 312h.1M1793 1233h.1M1854 1201h.1M1955 1265h.1M1529 1027h.1M1516 1244h.1M1566 2092h.1M2013 1293h.1M1497 1006h.1M1784 1317h.1M1956 1075h.1M1651 922h.1M1913 1511h.1M1544 2080h.1M1272 741h.1M1062 345h.1M425 461h.1M1446 838h.1M1653 1032h.1M1950 1169h.1M601 1305h.1M1768 1352h.1M1747 1204h.1M1650 1323h.1M1712 1378h.1M1923 1375h.1M1828 1326h.1M1449 1981h.1M1442 2020h.1M535 464h.1M1900 1359h.1M1843 1343h.1M1754 1075h.1M1838 1958h.1M1651 1935h.1M1638 1148h.1M1721 1118h.1M1500 872h.1M1783 1212h.1M1486 886h.1M1598 991h.1M1720 1022h.1M1534 1209h.1M1805 1309h.1M1743 1331h.1M1436 955h.1M1764 1283h.1M1979 1381h.1M1587 1157h.1M1799 1101h.1M1804 1087h.1M1499 870h.1M1151 812h.1M1402 1241h.1M1797 1904h.1M1082 309h.1M998 332h.1M697 473h.1M1575 1322h.1M1601 2032h.1M816 1821h.1M1585 1157h.1M1696 1376h.1M1382 1050h.1M1453 936h.1M1970 1505h.1M1733 1257h.1M1477 1943h.1M1205 837h.1M1366 808h.1M1793 1293h.1M1886 1192h.1M1979 1127h.1M1248 770h.1M1440 864h.1M992 323h.1M1929 1091h.1M1669 1146h.1M1683 1253h.1M576 1303h.1M1661 2004h.1M1496 1288h.1M1330 790h.1M1675 1189h.1M1752 1901h.1M1970 1120h.1M1448 905h.1M794 1814h.1M1678 1914h.1M596 1329h.1M1877 1476h.1M1772 1321h.1M1458 984h.1M1743 1216h.1M556 443h.1M2035 1178h.1M1518 1271h.1M507 482h.1M1813 1933h.1M691 472h.1M1718 1217h.1M1367 951h.1M1907 1129h.1M1749 1304h.1M443 468h.1M1481 2059h.1M1798 1123h.1M1822 1352h.1M983 348h.1M1666 1303h.1M1399 1112h.1M1709 1897h.1M1741 1412h.1M1595 911h.1M1471 996h.1M1509 873h.1M975 355h.1M1426 1251h.1M1693 1286h.1M1747 1104h.1M1681 1191h.1M1684 1272h.1M1961 1494h.1M514 446h.1M1863 1178h.1M1823 1017h.1M1603 1282h.1M1896 1157h.1M1536 868h.1M1664 1258h.1M1614 2057h.1M1806 1246h.1M1212 851h.1M1042 300h.1M1657 926h.1M1575 1985h.1M929 385h.1M1726 957h.1M1611 1315h.1M1544 1116h.1M1738 1211h.1M1914 1380h.1M1630 1154h.1M1652 1281h.1M457 479h.1M1657 1247h.1M1916 1210h.1M1757 1159h.1M1907 1506h.1M1566 1269h.1M2013 1463h.1M2003 1146h.1M1748 1972h.1M1775 1928h.1M1611 2076h.1M1670 945h.1M1709 1397h.1M1684 1918h.1M1833 1255h.1M520 437h.1M2020 1318h.1M1983 1131h.1M1888 1064h.1M1961 1251h.1M1891 1189h.1M1694 1242h.1M1895 1141h.1M1765 1254h.1M1450 2042h.1M1924 1107h.1M1734 1364h.1M1801 982h.1M1991 1119h.1M1897 1103h.1M1665 1158h.1M1946 1354h.1M1596 1056h.1M1748 1348h.1M1497 1086h.1M1955 1116h.1M1723 1923h.1M1472 2069h.1M1205 949h.1M1468 866h.1M1009 326h.1M1600 1246h.1M1656 1272h.1M950 368h.1M1477 1201h.1M1487 956h.1M644 453h.1M1718 1200h.1M1663 974h.1M1504 1941h.1M1591 1145h.1M1703 1229h.1M1962 1410h.1M1509 1045h.1M1770 1424h.1M1574 1266h.1M1758 1282h.1M1991 1226h.1M1650 1088h.1M1694 1360h.1M1666 921h.1M1934 1172h.1M1370 978h.1M514 438h.1M1638 1967h.1M1532 1045h.1M1410 1235h.1M1624 1101h.1M803 1821h.1M1112 848h.1M1861 1078h.1M1570 1208h.1M1603 2081h.1M1570 990h.1M1613 2038h.1M1690 1322h.1M1517 1113h.1M936 382h.1M1467 1221h.1M1965 1415h.1M1555 958h.1M1389 1117h.1M1483 1996h.1M1642 910h.1M1413 1226h.1M1932 1106h.1M1945 1330h.1M1467 1130h.1M1351 842h.1M1719 1902h.1M1367 966h.1M1915 1494h.1M1428 1126h.1M1989 1479h.1M479 441h.1M1567 1044h.1M1922 1195h.1M1456 850h.1M1643 1937h.1M1366 914h.1M1588 1036h.1M1550 1208h.1M1680 996h.1M1081 316h.1M1692 1957h.1M1023 321h.1M1955 1420h.1M1990 1140h.1M605 1284h.1M1579 1348h.1M1573 1219h.1M1740 1420h.1M440 459h.1M1805 1449h.1M1071 338h.1M1930 1202h.1M1476 922h.1M1850 1965h.1M1777 1308h.1M807 1817h.1M1865 1247h.1M1643 1950h.1M1696 1906h.1M657 469h.1M2007 1242h.1M600 457h.1M794 1816h.1M1791 1152h.1M1679 1245h.1M2054 1416h.1M1915 1397h.1M729 1818h.1M1877 1256h.1M1522 925h.1M1819 1264h.1M1665 1924h.1M1870 1238h.1M731 1807h.1M499 451h.1M998 326h.1M1736 1016h.1M1566 1038h.1M1628 907h.1M1380 855h.1M1544 989h.1M1435 897h.1M1675 1375h.1M994 309h.1M1779 1886h.1M1962 1139h.1M1614 1089h.1M1522 1925h.1M1701 1233h.1M616 1278h.1M985 317h.1M1789 1101h.1M1746 1058h.1M1933 1346h.1M1482 2019h.1M1606 1167h.1M1610 1303h.1M1683 1955h.1M1953 1439h.1M770 1822h.1M1256 745h.1M1747 1364h.1M687 467h.1M1641 1989h.1M1667 1925h.1M1628 1108h.1M1656 1238h.1M1693 1369h.1M1421 936h.1M1746 1175h.1M733 1825h.1M1986 1407h.1M1573 1177h.1M989 303h.1M1800 1059h.1M2017 1177h.1M1359 858h.1M1900 1224h.1M1692 961h.1M2016 1418h.1M1623 1261h.1M1985 1160h.1M1274 766h.1M1754 1039h.1M1682 1156h.1M1461 1233h.1M1552 890h.1M1328 905h.1M1432 1245h.1M1841 1982h.1M1896 1247h.1M1685 2041h.1M1389 942h.1M1768 1143h.1M1275 774h.1M1660 1025h.1M1899 1285h.1M1667 981h.1M1686 1038h.1M2016 1123h.1M1551 896h.1M1763 1101h.1M1479 968h.1M1694 1215h.1M1792 1083h.1M1956 1455h.1M1555 1130h.1M633 458h.1M1483 953h.1M1527 2096h.1M2019 1138h.1M1459 2045h.1M1458 1125h.1M1884 1224h.1M3200 1034h.1M1000 343h.1M1966 1200h.1M1204 870h.1M1549 1091h.1M1785 992h.1M446 476h.1M1945 1456h.1M1550 963h.1M1720 1889h.1M1642 1947h.1M1704 1105h.1M1812 1978h.1M1971 1176h.1M1529 1062h.1M1815 1055h.1M1329 883h.1M1584 1040h.1M677 1319h.1M1547 1022h.1M1403 879h.1M1643 1041h.1M1322 961h.1M1889 1207h.1M1847 1111h.1M1947 1495h.1M1821 1922h.1M1772 1129h.1M1463 980h.1M1745 1194h.1M1936 1169h.1M1594 1240h.1M1990 1476h.1M1818 1104h.1M1598 951h.1M1990 1128h.1M1488 862h.1M633 1297h.1M1472 899h.1M1866 1319h.1M1446 1271h.1M1438 887h.1M1471 874h.1M1073 337h.1M658 1327h.1M1705 1380h.1M1460 958h.1M1526 1278h.1M1450 2004h.1M1914 1335h.1M1682 1326h.1M1745 1948h.1M1679 1955h.1M1816 1123h.1M1376 820h.1M1720 1897h.1M1001 322h.1M1365 1109h.1M1622 1220h.1M1507 1057h.1M1371 859h.1M1042 821h.1M1863 1115h.1M1523 1057h.1M1784 1203h.1M1616 1164h.1M1968 1144h.1M532 468h.1M1747 1266h.1M1963 1176h.1M1645 1015h.1M1759 1183h.1M1681 946h.1M1517 1126h.1M1643 1947h.1M664 458h.1M754 1817h.1M1726 1074h.1M1627 1001h.1M1820 1436h.1M1464 1109h.1M1816 1301h.1M1605 1206h.1M1851 1158h.1M1854 1989h.1M1817 1400h.1M1999 1207h.1M1469 1970h.1M1777 1911h.1M1682 1100h.1M1705 1176h.1M1598 903h.1M1689 1903h.1M1315 775h.1M1834 1244h.1M1281 773h.1M1596 1366h.1M1340 857h.1M1575 897h.1M1826 1467h.1M1606 1183h.1M1477 936h.1M1907 1335h.1M1525 868h.1M1066 326h.1M1530 916h.1M1583 1202h.1"/>
<path stroke="#836969" d="M2007 1410h.1M1947 1436h.1M1484 876h.1M1581 1365h.1M1499 2071h.1M980 312h.1M1628 1243h.1M1915 1191h.1M2032 1153h.1M1863 1202h.1M1581 921h.1M1997 1435h.1M1381 845h.1M980 364h.1M1438 937h.1M1555 1379h.1M1677 966h.1M1633 1050h.1M1994 1237h.1M1720 990h.1M1457 2054h.1M1164 987h.1M1793 1038h.1M1764 1121h.1M1063 298h.1M1463 1186h.1M1969 1463h.1M1538 1101h.1M1735 953h.1M1993 1279h.1M1942 1478h.1M1945 1488h.1M1462 1281h.1M1838 1387h.1M1396 835h.1M1973 1484h.1M1353 1181h.1M1466 1072h.1M1399 926h.1M1479 1179h.1M1764 1202h.1M1764 1257h.1M1491 1163h.1M1385 1055h.1M1443 2021h.1M927 388h.1M1712 1897h.1M1812 1455h.1M1769 1880h.1M1640 1036h.1M1903 1179h.1M1984 1182h.1M1856 1292h.1M656 472h.1M1882 1410h.1M1784 1031h.1M2039 1377h.1M1960 1205h.1M1484 884h.1M1575 1165h.1M1353 1100h.1M1406 1034h.1M1735 1415h.1M1665 1318h.1M1936 1225h.1M616 1310h.1M1835 1021h.1M1843 1446h.1M1026 294h.1M2032 1430h.1M1640 1276h.1M1778 1136h.1"/>
<path stroke="#846565" d="M1370 1115h.1M1983 1149h.1M1428 1229h.1M666 1330h.1M2011 1413h.1M1773 1191h.1M583 1320h.1M1830 1144h.1M941 384h.1M1636 1122h.1M1751 1971h.1M677 1324h.1M1944 1113h.1M1871 1416h.1M1513 1075h.1M1530 880h.1M1730 965h.1M1675 1305h.1M1592 2085h.1M824 1813h.1M1988 1156h.1M1775 1884h.1M1471 872h.1M1853 1039h.1M1564 968h.1M1931 1165h.1M995 341h.1M1157 996h.1M582 1329h.1M611 458h.1M1709 1053h.1M1920 1172h.1M1922 1068h.1M1697 1258h.1M1901 1332h.1M1499 960h.1M1886 1474h.1M1515 1207h.1M1504 1932h.1M459 439h.1M1488 1280h.1M1986 1414h.1M637 1317h.1M1829 1237h.1M1920 1467h.1M1376 978h.1M1455 958h.1M1374 911h.1M1530 876h.1M1472 929h.1M624 1324h.1M1664 1984h.1M1816 1209h.1M1946 275h.1M1574 1078h.1M1850 1984h.1M1932 1423h.1M2049 1186h.1M1820 1246h.1M1624 1034h.1M1744 1385h.1M1531 1120h.1M1964 1504h.1M2000 1135h.1M1604 2024h.1M1540 936h.1M1653 1100h.1M587 1334h.1M1667 1132h.1M1810 1105h.1M1780 1172h.1M1464 1090h.1M1757 1283h.1M1396 1059h.1M1597 995h.1M1434 920h.1M1550 1042h.1M1742 1894h.1M2038 1199h.1M1892 1101h.1M1387 1108h.1M1653 1214h.1M1745 1989h.1M1735 1079h.1M805 1830h.1M987 381h.1M1890 1161h.1M1886 1100h.1M477 448h.1M1791 1224h.1M2014 1174h.1M2032 1146h.1M1081 1942h.1M1473 1109h.1M1629 1228h.1M943 344h.1M1170 823h.1M1801 1317h.1M1513 1945h.1M1590 1122h.1M1770 1303h.1M1925 1441h.1M1922 1415h.1M1702 1405h.1M1700 1137h.1M1826 1110h.1M1679 951h.1M1454 947h.1M1378 1026h.1M1557 1200h.1M1604 1268h.1M1955 1252h.1M737 1820h.1M1155 988h.1M1000 326h.1M1356 1105h.1M1552 992h.1M1567 1265h.1M1226 755h.1M1416 1232h.1M575 444h.1M1551 1035h.1M1868 1165h.1M1048 303h.1M1909 1328h.1M1731 969h.1M1429 994h.1M1583 996h.1M1909 1443h.1M1827 1204h.1M1731 1137h.1M459 470h.1M1782 1908h.1M1778 1995h.1M609 467h.1M1389 817h.1M1154 878h.1M1569 2084h.1M2030 1221h.1M1790 994h.1M1622 944h.1M1864 1226h.1M1899 1184h.1M1717 1314h.1M616 1304h.1M1542 1275h.1M1642 1061h.1M1737 1073h.1M1598 972h.1M766 1824h.1M1683 1007h.1M1941 1252h.1M1840 1103h.1M1884 1277h.1M1916 1104h.1M1494 912h.1M626 482h.1M1765 1229h.1M1925 1062h.1M1652 1180h.1M1925 1308h.1M2038 1371h.1M2039 1365h.1M1040 810h.1M1555 1336h.1M1025 306h.1M1367 1053h.1M1720 1120h.1M1570 972h.1M1884 1321h.1M1380 861h.1M1615 1024h.1M1322 914h.1M1616 964h.1M1723 1395h.1M680 1335h.1M1613 1024h.1M1506 950h.1M685 1339h.1M1771 1243h.1M1714 1006h.1M1934 1447h.1M2052 1172h.1M1801 1085h.1M1865 1121h.1M1604 1035h.1M1716 2003h.1M620 1289h.1M1466 1094h.1M1359 856h.1M1990 1138h.1M1531 937h.1M1368 1112h.1M1711 2021h.1M1745 1150h.1M1708 1298h.1M588 453h.1M1835 1458h.1M1753 1164h.1M1434 843h.1M1469 944h.1M2017 1306h.1M1468 952h.1M1536 931h.1M1475 1111h.1M1441 1998h.1M569 468h.1M452 451h.1M1546 1060h.1M1953 1322h.1M1515 1060h.1M647 1336h.1M1973 1384h.1M1728 1257h.1M1892 1471h.1"/>
<path stroke="#846161" d="M474 446h.1M1472 1051h.1M1759 1885h.1M1922 1246h.1M1972 1397h.1M1608 2031h.1M1604 2038h.1M1564 1250h.1M1617 1298h.1M1837 1244h.1M669 1322h.1M462 449h.1M1504 1025h.1M1569 1156h.1M1927 1434h.1M1769 1274h.1M1930 1264h.1M1779 1318h.1M1969 1439h.1M1376 835h.1M475 486h.1M753 1815h.1M1984 1379h.1M1820 1929h.1M1438 1260h.1M1589 1157h.1M1593 2080h.1M1507 1941h.1M660 1327h.1M1572 2081h.1M1444 956h.1M1352 1107h.1M806 1817h.1M968 349h.1M1368 1198h.1M1481 1220h.1M1721 1001h.1M1775 1985h.1M593 473h.1M1611 1053h.1M1383 837h.1M1378 998h.1M1915 1274h.1M1988 1317h.1M1986 1182h.1M1374 970h.1M2033 1139h.1M1285 786h.1M1939 1438h.1M1761 1974h.1M1452 986h.1M1943 1124h.1M1714 1341h.1M1887 1206h.1M1679 1099h.1M1803 1428h.1M1431 1052h.1M1821 1310h.1M1739 2000h.1M984 330h.1M1576 1099h.1M1491 1255h.1M496 476h.1M1184 971h.1M1629 1072h.1M1564 894h.1M1373 881h.1M1678 990h.1M1469 924h.1M1925 1213h.1M1327 803h.1M1475 898h.1M1774 1241h.1M1465 1960h.1M1355 1100h.1M1966 1411h.1M1898 1240h.1M1764 1345h.1M1778 1910h.1M1874 1263h.1M1971 1334h.1M1519 915h.1M1898 1175h.1M1555 879h.1M1724 1391h.1M1721 1113h.1M1326 926h.1M573 459h.1M1184 868h.1M1692 939h.1M1490 941h.1M1655 1136h.1M1895 1181h.1M1842 1265h.1M1756 1008h.1M1702 1018h.1M1666 1234h.1M1341 965h.1M461 472h.1M1784 1916h.1M1912 1060h.1M1747 1015h.1M1897 1286h.1M1531 1218h.1M1848 1243h.1M1593 892h.1M1885 1115h.1M1820 1119h.1M1445 917h.1M1436 1253h.1M593 1318h.1M1891 1138h.1M1664 2022h.1M1697 1093h.1M1722 1900h.1M2059 1164h.1M448 461h.1M1674 1024h.1M1526 1039h.1M1923 1287h.1M1569 1371h.1M1955 1469h.1M1913 1152h.1M1519 871h.1M1642 1059h.1M1685 1343h.1M1122 853h.1M1903 1064h.1M1092 324h.1M594 465h.1M1480 874h.1M1844 1463h.1M1757 1039h.1M487 438h.1M1362 875h.1M1870 1232h.1M1972 1258h.1M1104 321h.1M1645 1064h.1M1616 1044h.1M1501 1937h.1M1953 1185h.1M1927 1340h.1M1689 1100h.1M1473 854h.1M1907 1327h.1M1088 313h.1M2027 1230h.1M1584 904h.1M1773 1230h.1M1498 1025h.1M1409 836h.1M1541 1257h.1M590 462h.1M1366 920h.1M1350 1101h.1M1092 854h.1M1399 979h.1M1730 1035h.1M1403 1104h.1M1396 937h.1M1760 1311h.1M1908 1489h.1M497 440h.1M2006 1231h.1M1843 1988h.1M2038 1388h.1M1577 1028h.1M1744 1165h.1M475 466h.1M1739 1300h.1M2017 1205h.1M1462 1135h.1M1735 1174h.1M840 1803h.1M1049 330h.1M1955 1497h.1M1547 2082h.1M1343 969h.1M1957 1378h.1M1524 930h.1M1666 1165h.1M1914 1243h.1M2009 1435h.1M1409 1017h.1M1420 1139h.1M2003 1392h.1M1787 1884h.1M1864 1170h.1M1703 1192h.1M1405 890h.1M734 1823h.1M902 402h.1M1511 967h.1M1670 1218h.1M1808 1308h.1M1947 1498h.1M1638 1029h.1M662 1304h.1M1800 1362h.1M1661 976h.1M1537 1927h.1M1411 911h.1M1949 1277h.1M1973 1418h.1M1839 1112h.1M807 1820h.1M1623 1279h.1M1660 1129h.1M440 477h.1M1520 1298h.1M1940 1097h.1M1941 1248h.1M1527 1015h.1M1765 1890h.1M1967 1486h.1M1957 1243h.1M1455 1250h.1M1550 1275h.1M1551 1356h.1M1109 865h.1M2030 1174h.1M2043 1366h.1M458 464h.1M492 472h.1M1436 866h.1M1698 1030h.1M1760 1137h.1M1783 1890h.1M1920 1468h.1M1425 1006h.1M506 460h.1M1748 1197h.1M1716 1331h.1M1821 1335h.1M1729 1412h.1M1613 1083h.1M1748 1342h.1M1703 1128h.1M1222 944h.1M1180 862h.1M1392 1033h.1M1630 972h.1M1557 1362h.1M1793 1210h.1M1628 980h.1M1918 1289h.1M2031 1369h.1M1409 1117h.1M2008 1192h.1M468 489h.1M1915 1252h.1M1775 992h.1M1382 1202h.1M579 1301h.1M1815 1316h.1M1257 772h.1M1816 1331h.1M1896 1351h.1M2008 1457h.1M1702 1041h.1M1348 916h.1M1415 947h.1M1416 867h.1M1623 897h.1M802 1832h.1M1590 1081h.1M1871 1329h.1M1869 1041h.1M1450 1033h.1M1879 1119h.1M1513 1196h.1M1708 1323h.1M1434 932h.1M1636 1273h.1M1757 1172h.1M1756 1027h.1M1886 1175h.1M1920 1342h.1M606 1328h.1M1347 854h.1M1477 1958h.1M1704 1173h.1M1904 1232h.1M1453 1972h.1M1510 958h.1M1349 1109h.1M1637 1212h.1M1589 2014h.1M1356 1196h.1M1754 1985h.1M2014 1426h.1M1616 1081h.1M1776 1883h.1M1414 1130h.1M990 351h.1M1605 963h.1M1057 330h.1M1756 1181h.1M1797 1459h.1M684 1336h.1M1915 1478h.1M1579 1068h.1M1747 1905h.1M1856 1343h.1M621 1317h.1M1402 982h.1M1397 942h.1M811 1818h.1M1549 1103h.1M576 1299h.1M1527 872h.1M1557 977h.1M825 1820h.1M1031 340h.1M1483 899h.1M1737 1037h.1M951 379h.1M2047 1411h.1M1381 1129h.1M792 1834h.1M1354 1175h.1M629 1331h.1M961 345h.1M1933 1109h.1M1202 858h.1M1513 1011h.1"/>
<path stroke="#855c5c" d="M1573 1131h.1M595 478h.1M1749 1034h.1M1731 1125h.1M1677 1231h.1M1962 1448h.1M1994 1109h.1M1644 1189h.1M1347 807h.1M1605 1206h.1M1527 1208h.1M1880 1161h.1M1719 1142h.1M648 1336h.1M1832 1940h.1M1706 989h.1M1862 1162h.1M997 347h.1M1706 967h.1M2027 1232h.1M1707 2014h.1M1580 1131h.1M1645 1952h.1M859 1805h.1M1602 1054h.1M1439 947h.1M1976 1490h.1M1621 2060h.1M1902 1196h.1M1464 882h.1M1619 1295h.1M757 1821h.1M1482 1005h.1M1395 890h.1M1944 1190h.1M1776 1117h.1M1896 1072h.1M1703 1088h.1M1469 1044h.1M1379 963h.1M1886 1504h.1M1983 1383h.1M1697 1148h.1M558 453h.1M1492 2065h.1M1976 1198h.1M1895 1065h.1M1881 1482h.1M1434 2009h.1M543 441h.1M638 1294h.1M1873 1216h.1M1672 1042h.1M1172 857h.1M1599 2081h.1M2049 1426h.1M1479 1063h.1M1489 2084h.1M2034 1386h.1M1593 1098h.1M1274 781h.1M2022 1442h.1M1901 1216h.1M1718 1083h.1M1918 1078h.1M1633 1188h.1M1028 802h.1M1598 961h.1M957 386h.1M1611 2041h.1M1118 833h.1M2006 1155h.1M1067 301h.1M1630 982h.1M1952 1202h.1M1076 313h.1M1857 1179h.1M622 447h.1M1601 998h.1M993 323h.1M1443 1210h.1M1935 1090h.1M1839 1986h.1M1707 1281h.1M1656 1985h.1M969 341h.1M1597 1051h.1M1849 1956h.1M1638 999h.1M1914 1523h.1M1845 1300h.1M1691 1099h.1M1900 1139h.1M1734 1242h.1M1778 1244h.1M992 327h.1M605 1313h.1M468 462h.1M1955 1475h.1M1920 1452h.1M1473 1223h.1M1410 1140h.1M1586 1016h.1M1907 1456h.1M1681 967h.1M1802 1027h.1M1800 1275h.1M1496 2021h.1M1877 1408h.1M1651 1944h.1M639 465h.1M1551 1269h.1M1418 1128h.1M1478 2061h.1M1771 1196h.1M477 479h.1M1599 1146h.1M808 1827h.1M1468 2061h.1M606 1328h.1M1282 779h.1M1719 1356h.1M1436 969h.1M1204 817h.1M1387 988h.1M1385 925h.1M1839 1125h.1M990 337h.1M1190 980h.1M1535 1152h.1M1559 2083h.1M1975 1134h.1M1665 2012h.1M1451 919h.1M1843 1376h.1M1329 942h.1M1642 960h.1M1442 847h.1M1804 1138h.1M1465 1973h.1M742 1812h.1M1824 1122h.1M1515 878h.1M1399 1026h.1M1693 1393h.1M1412 919h.1M1935 1463h.1M1482 2074h.1M2013 1397h.1M1875 1196h.1M931 385h.1M1837 1265h.1M1493 861h.1M1456 2040h.1M1551 868h.1M2018 1431h.1M1576 1040h.1M1572 1039h.1M1516 1115h.1M1781 2003h.1M1723 1160h.1M1084 336h.1M600 1323h.1M1895 1499h.1M1725 1261h.1M1758 1092h.1M1049 306h.1M644 1304h.1M1162 825h.1M768 1832h.1M2042 1209h.1M1583 979h.1M1685 1133h.1M1786 1036h.1M1124 854h.1M542 437h.1M1672 1947h.1M1890 1461h.1M592 1327h.1M1928 1283h.1M2029 1396h.1M1811 1075h.1M2018 1150h.1M1869 1186h.1M1688 1186h.1M1416 1013h.1M1804 1147h.1M604 449h.1M1759 1320h.1M1501 1001h.1M1634 1948h.1M1740 1273h.1M1184 812h.1M728 1825h.1M1954 271h.1M1041 329h.1M1428 1241h.1M1660 2021h.1M726 1827h.1M1630 1200h.1M1560 1196h.1M1849 1978h.1"/>
<path stroke="#865858" d="M1812 1264h.1M1412 949h.1M578 462h.1M1755 1881h.1M628 1290h.1M1804 1258h.1M1465 1024h.1M1207 839h.1M1957 1108h.1M1675 1259h.1M1369 980h.1M1143 868h.1M948 353h.1M2040 1150h.1M1556 1009h.1M1186 874h.1M1910 1169h.1M1785 1896h.1M1567 955h.1M1922 1489h.1M1563 1157h.1M1760 1043h.1M793 1824h.1M1984 1113h.1M1582 1095h.1M1951 1224h.1M1785 1873h.1M2008 1318h.1M1812 1025h.1M1000 301h.1M1567 1138h.1M1485 942h.1M1972 1192h.1M1684 989h.1M1345 854h.1M2025 1208h.1M2062 1186h.1M536 464h.1M732 1808h.1M1903 1321h.1M1795 1012h.1M852 1798h.1M1792 1289h.1M1131 851h.1M1644 1248h.1M1393 1122h.1M2020 1258h.1M1121 853h.1M1846 1079h.1M1567 1227h.1M1398 1112h.1M1988 1238h.1M1906 1279h.1M1796 1018h.1M814 1808h.1M570 1312h.1M1709 1091h.1M1574 1087h.1M1951 274h.1M1497 1281h.1M1596 1229h.1M1946 1272h.1M1194 965h.1M1505 877h.1M1235 760h.1M1939 1419h.1M1740 1300h.1M1682 1044h.1M1402 1226h.1M1743 1308h.1M1688 1017h.1M592 1332h.1M1965 1102h.1M1504 2029h.1M1772 1244h.1M1640 1149h.1M1823 1166h.1M671 1329h.1M2050 1398h.1M1727 1850h.1M1574 1348h.1M1657 1238h.1M1502 1238h.1M1537 1047h.1M1419 886h.1M1526 1269h.1M1835 1128h.1M1642 1959h.1M1700 1260h.1M1328 823h.1M992 370h.1M1796 1409h.1M1762 1371h.1M2046 1436h.1M1779 1301h.1M1929 1523h.1M1521 1221h.1M1804 1302h.1M1693 1363h.1M1797 1157h.1M1751 1150h.1M1596 1249h.1M1899 1081h.1M1811 1063h.1M1039 796h.1M1630 2031h.1M1174 993h.1M1575 987h.1M1272 738h.1M1557 1184h.1M1399 1013h.1M1558 1046h.1M1790 1279h.1M1979 1471h.1M1589 1023h.1M1870 1176h.1M1775 964h.1M1426 1247h.1M1041 315h.1M1612 945h.1M1987 1226h.1M1391 965h.1M1491 1261h.1M1265 731h.1M1642 924h.1M1728 1105h.1M1477 1139h.1M1369 887h.1M1895 1070h.1M1648 1246h.1M1729 1318h.1M678 1312h.1M2000 1448h.1M1261 741h.1M1376 952h.1M1710 1947h.1M1227 942h.1M1971 1131h.1M1749 1391h.1M1052 325h.1M1356 916h.1M1911 1430h.1M1995 1416h.1M605 1289h.1M622 1292h.1M1794 1417h.1M1658 908h.1M1926 1126h.1M626 474h.1M1775 1982h.1M647 1283h.1M1789 1942h.1M578 1321h.1M1249 759h.1M1712 1277h.1M1561 1340h.1M1624 1218h.1M1763 950h.1M984 367h.1M1641 1951h.1M1661 1235h.1M977 347h.1M1867 1207h.1M1808 1918h.1M1917 1223h.1M1627 928h.1M1680 966h.1M1472 1143h.1M1630 1144h.1M500 457h.1M998 364h.1M1486 915h.1M2024 1398h.1M1669 2041h.1M1427 1116h.1M1190 842h.1M1584 1035h.1M1189 861h.1M1928 1081h.1M1944 1241h.1M1907 1491h.1M1580 2042h.1M1987 1430h.1M1847 1227h.1M462 456h.1M1176 875h.1M1655 1085h.1M1203 966h.1M1674 1342h.1M1918 1406h.1M1628 1091h.1M1976 1196h.1M1456 1991h.1M1852 1111h.1M1524 963h.1M1427 1132h.1M1939 1246h.1M1265 910h.1M1929 1138h.1M1612 1123h.1M1947 1252h.1M1756 992h.1M1661 1109h.1M1579 1056h.1M1511 942h.1M1296 768h.1M1730 1214h.1M636 453h.1M1797 1204h.1M1555 1108h.1M1915 1442h.1M1672 1920h.1M1843 1283h.1M1739 1304h.1M681 1329h.1M484 476h.1M1741 1344h.1M1442 1000h.1M1667 1997h.1M1490 1271h.1M645 1284h.1M1545 1188h.1M1678 1194h.1M1490 1059h.1M1761 1182h.1M1694 1998h.1M480 448h.1M648 451h.1M1606 927h.1M1718 1344h.1M1383 850h.1M653 1334h.1M1698 1203h.1M1673 1327h.1M1011 326h.1M1409 885h.1M1657 1221h.1M827 1819h.1M1985 1446h.1M990 360h.1M1349 1188h.1M798 1824h.1M1590 1067h.1M1583 1251h.1M1945 1138h.1M1622 1304h.1M1640 1130h.1M1992 1260h.1M658 458h.1M1620 1037h.1M1615 1071h.1M596 1322h.1M990 379h.1M1748 1122h.1M1499 880h.1M1670 1114h.1M1225 968h.1M1190 980h.1M1757 1910h.1M714 466h.1M1645 1984h.1M1719 1150h.1M2025 1437h.1M514 454h.1M1693 2030h.1M1557 1000h.1M1767 1332h.1M1001 356h.1M1596 1155h.1M678 470h.1M1210 946h.1M1037 328h.1M1934 1258h.1M1745 1064h.1M1744 1144h.1M1414 1057h.1M1760 943h.1M646 1293h.1M1680 1312h.1M1905 1120h.1M1631 922h.1M1731 1139h.1M1461 1975h.1M1743 1111h.1M638 1299h.1M1814 1252h.1M1676 1994h.1M1662 2045h.1M1072 321h.1M1371 1039h.1M1955 1372h.1M1156 822h.1M1599 1040h.1M1693 1148h.1M1162 822h.1M1958 1165h.1M1013 348h.1M1847 1331h.1M1714 1126h.1M603 1295h.1M2008 1347h.1M1585 950h.1M1529 1200h.1M630 467h.1M1363 803h.1M1715 2020h.1M1522 974h.1M1678 1166h.1M1850 1034h.1"/>
<path stroke="#865454" d="M1921 1150h.1M1580 1023h.1M1690 1273h.1M1660 1049h.1M1720 1331h.1M538 462h.1M1502 942h.1M1735 1260h.1M1789 1017h.1M1533 1259h.1M1379 988h.1M775 1818h.1M1450 841h.1M2040 1163h.1M1559 1258h.1M1573 1017h.1M1901 1375h.1M1535 1055h.1M1624 1047h.1M1883 1241h.1M2000 1398h.1M1542 1021h.1M1574 1006h.1M1792 1062h.1M545 433h.1M1605 2044h.1M1734 1169h.1M1568 1102h.1M1903 1503h.1M1844 1232h.1M602 1295h.1M984 338h.1M1300 776h.1M2038 1411h.1M1606 1156h.1M503 448h.1M1668 1189h.1M1551 926h.1M1573 2050h.1M1960 1309h.1M1571 1343h.1M1543 947h.1M1527 1067h.1M600 1283h.1M1998 1212h.1M1899 1098h.1M1882 1091h.1M1640 1199h.1M583 1330h.1M1995 1100h.1M1597 1176h.1M1193 858h.1M1871 1043h.1M994 333h.1M1432 931h.1M1768 1921h.1M1264 741h.1M1443 995h.1M925 392h.1M1509 1220h.1M1235 778h.1M1631 1285h.1M435 473h.1M1793 1089h.1M1403 826h.1M487 466h.1M1799 1197h.1M1443 1264h.1M681 1331h.1M1784 1376h.1M730 1814h.1M596 458h.1M1891 1501h.1M2016 1244h.1M1181 821h.1M1121 861h.1M1027 332h.1M1659 908h.1M2011 1401h.1M2037 1168h.1M1460 947h.1M1312 823h.1M1209 833h.1M1806 1294h.1M1840 1982h.1M1916 1229h.1M581 1320h.1M1434 2033h.1M1851 1261h.1M1126 821h.1M1755 1880h.1M1530 887h.1M1539 945h.1M1704 1389h.1M1700 1932h.1M1420 1012h.1M531 467h.1M1957 1420h.1M1966 1230h.1M1613 1249h.1M522 458h.1M1405 1225h.1M1837 1195h.1M1638 1246h.1M615 462h.1M479 466h.1M2038 1389h.1M471 469h.1M1688 1941h.1M1918 1345h.1M1983 1398h.1M1789 1091h.1M1390 963h.1M1425 854h.1M1818 1333h.1M1607 1307h.1M1206 826h.1M1487 853h.1M1845 1961h.1M522 466h.1M1776 1915h.1M1745 1401h.1M1674 2015h.1M1412 1142h.1M1565 1028h.1M1066 325h.1M1420 1119h.1M1762 1277h.1M1299 969h.1M1199 872h.1M1929 1184h.1M1736 1388h.1M1778 1076h.1M1463 930h.1M1982 1232h.1M1818 1004h.1M1368 835h.1M1673 1182h.1M1984 1184h.1M1265 776h.1M1634 960h.1M1950 1462h.1M1739 1185h.1M1915 1381h.1M1682 1227h.1M1592 1249h.1M1941 1518h.1M1843 1165h.1M1883 1283h.1M1617 1274h.1M1362 1185h.1M1900 1114h.1M1912 1278h.1M1659 1289h.1M1184 804h.1M638 1324h.1M1563 2046h.1M2042 1406h.1M738 1818h.1M1178 874h.1M1028 804h.1M1797 1084h.1M1639 1139h.1M1858 1192h.1M1448 861h.1M1567 1927h.1M1449 1999h.1M1624 1190h.1M1063 338h.1M614 1277h.1M1525 1236h.1M1981 1234h.1M1475 1260h.1M1603 1259h.1M1492 1036h.1M767 1818h.1M1009 309h.1M1640 1262h.1M532 461h.1M1804 1212h.1M1533 972h.1M1380 934h.1M1674 1165h.1M1947 1455h.1M430 461h.1M1667 928h.1M1836 1029h.1M1682 1951h.1M1513 1937h.1M1856 1211h.1M1938 1499h.1M1575 962h.1M2021 1368h.1M1579 1345h.1M1707 1354h.1M1555 1237h.1M1990 1184h.1M1917 1124h.1M1575 1140h.1M1225 763h.1M1893 1067h.1M1834 1151h.1M1859 1184h.1M1774 1123h.1M1872 1311h.1M1674 1911h.1M1410 1004h.1M1724 2023h.1M608 471h.1M1713 1196h.1M1795 1454h.1M1674 980h.1M1565 949h.1M1379 1198h.1M1029 807h.1M1557 1122h.1M1343 1097h.1M786 1816h.1M1915 1480h.1M1803 1229h.1M1279 743h.1M1650 1336h.1M1506 2089h.1M1875 1290h.1M1191 823h.1M1409 934h.1M1479 1120h.1M1151 844h.1M1844 1393h.1M1769 971h.1M1891 1300h.1M1667 1280h.1M720 1827h.1M1713 1369h.1M1707 1409h.1M582 452h.1M1768 1327h.1M1583 1137h.1M1053 809h.1M680 471h.1M1702 1286h.1M1911 1472h.1M1729 1061h.1M440 463h.1M1565 2089h.1M1957 1224h.1M1833 1175h.1M1099 857h.1M1648 1109h.1M1772 1279h.1M1749 1019h.1M1448 837h.1M1828 1923h.1M476 451h.1M1601 1195h.1M2031 1375h.1M1427 1088h.1M470 441h.1"/>
<path stroke="#875050" d="M1371 877h.1M1534 1066h.1M1745 1239h.1M1459 1231h.1M1644 1087h.1M1813 1289h.1M588 474h.1M1148 862h.1M1807 1283h.1M1762 1263h.1M1385 865h.1M1369 821h.1M1489 1222h.1M1828 1225h.1M1571 1359h.1M1825 1288h.1M1699 1274h.1M799 1823h.1M1569 1252h.1M1641 1041h.1M1506 1946h.1M1945 1220h.1M1043 322h.1M1978 1161h.1M1464 863h.1M1613 2076h.1M1984 1305h.1M1713 1139h.1M1638 1953h.1M1750 1369h.1M1501 1008h.1M1209 861h.1M1236 769h.1M1880 1145h.1M1760 969h.1M1485 2069h.1M1707 1122h.1M636 1297h.1M1984 250h.1M2015 1214h.1M1778 1316h.1M1508 921h.1M1434 1130h.1M2045 1430h.1M1697 1903h.1M1952 1179h.1M1441 2046h.1M1259 742h.1M1268 830h.1M1966 1416h.1M1419 930h.1M1010 806h.1M2024 1162h.1M1647 1981h.1M2037 1443h.1M1955 1480h.1M1838 1430h.1M1174 993h.1M681 1328h.1M1455 1049h.1M1747 1888h.1M1852 1962h.1M1628 1153h.1M1795 997h.1M1640 1310h.1M1613 1228h.1M1451 831h.1M1908 1372h.1M1379 1006h.1M1438 945h.1M1942 1133h.1M1705 1898h.1M1805 1260h.1M1727 1318h.1M1517 1072h.1M1846 1201h.1M1988 1197h.1M1470 2068h.1M1280 777h.1M1856 1463h.1M1437 954h.1M628 477h.1M1862 1258h.1M1358 836h.1M1840 1953h.1M1918 1182h.1M634 1333h.1M1566 1084h.1M1610 952h.1M1759 1375h.1M657 1317h.1M1647 1926h.1M1653 2051h.1M1918 1239h.1M1881 1283h.1M1772 1302h.1M1507 1202h.1M660 1316h.1M1940 1083h.1M610 1329h.1M588 470h.1M1720 1028h.1M1201 831h.1M1113 836h.1M1393 1115h.1M1726 1868h.1M1833 1233h.1M1084 328h.1M613 463h.1M1294 773h.1M1749 999h.1M1762 1012h.1M1879 1185h.1M1681 1394h.1M1133 875h.1M1762 1057h.1M1510 976h.1M1887 1149h.1M1716 1233h.1M1286 766h.1M1557 937h.1M1628 1266h.1M1787 1099h.1M1782 1255h.1M1394 839h.1M1769 1058h.1M1986 1189h.1M573 446h.1M1701 1056h.1M1026 314h.1M1880 1295h.1M1784 1038h.1M1480 886h.1M717 1819h.1M1751 1209h.1M1439 1248h.1M1720 1291h.1M1603 1050h.1M663 1289h.1M1990 1387h.1M1779 984h.1M1739 1132h.1M1961 1428h.1M1991 1393h.1M1797 1108h.1M1980 1489h.1M1925 1362h.1M1600 1098h.1M1722 1867h.1M1427 833h.1M1933 284h.1M978 378h.1M1679 994h.1M1373 1108h.1M1204 817h.1M1223 882h.1M1845 1101h.1M1336 975h.1M1804 1913h.1M1507 929h.1M1906 1210h.1M661 1333h.1M564 446h.1M1885 1050h.1M2037 1167h.1M1654 1148h.1M1759 1206h.1M1813 1454h.1M1520 2090h.1M1901 1065h.1M559 447h.1M1106 837h.1M1426 1064h.1M1674 1379h.1M1740 1019h.1M1673 1211h.1M1607 1228h.1M1546 1209h.1M676 1340h.1M1576 1176h.1M1571 1108h.1M1546 1233h.1M682 1332h.1M1735 1269h.1M1494 1075h.1M1723 938h.1M2005 1458h.1M1830 1158h.1M1765 1301h.1M1484 1949h.1M1583 1148h.1M1817 1460h.1M2005 1438h.1M455 468h.1M1937 282h.1M1532 1277h.1M1746 1900h.1M592 1303h.1M2024 1416h.1M1799 1300h.1M1415 1241h.1M676 473h.1M1237 888h.1M1172 855h.1M1984 248h.1M1258 840h.1M1769 1886h.1M1474 1226h.1M1391 901h.1M1571 2050h.1M1576 1248h.1M1391 1113h.1M1934 1487h.1M1548 1002h.1M1677 922h.1M1958 1197h.1M1899 1133h.1M1423 1021h.1M572 452h.1M1645 1947h.1M1644 1957h.1M667 459h.1M1319 849h.1M1999 1476h.1M477 438h.1M1586 1162h.1M1487 966h.1M1027 797h.1M2058 1201h.1M1981 1490h.1M2009 1159h.1M593 1326h.1M1428 1008h.1M1989 1210h.1M932 376h.1M1987 1469h.1M1048 833h.1M1457 937h.1M1692 1908h.1M1745 1134h.1M1944 1426h.1M1846 1953h.1M1772 1058h.1M1353 828h.1M1665 1268h.1M1612 1352h.1M2043 1165h.1M1812 1016h.1M1033 794h.1M1887 1490h.1M1787 1245h.1M1970 1468h.1M1706 1419h.1M525 445h.1M1396 1132h.1M1871 1105h.1M1551 1043h.1M1607 1010h.1M1591 957h.1M1701 1267h.1M1570 1201h.1M1043 326h.1M1367 1007h.1M1899 1348h.1M1025 293h.1M613 1315h.1M637 1307h.1M483 450h.1M1219 820h.1M1564 1379h.1M1795 1259h.1M1958 267h.1M1461 1967h.1M1058 806h.1M1784 1345h.1M1975 1261h.1M1556 2078h.1M1255 965h.1M2011 1232h.1M1942 1448h.1M1198 960h.1M1775 1230h.1M1927 1474h.1M1445 1285h.1M1594 1101h.1M1446 932h.1"/>
<path stroke="#884b4b" d="M1602 1358h.1M1347 1183h.1M1480 1242h.1M1910 1160h.1M1752 1385h.1M1690 1052h.1M1645 1942h.1M1282 745h.1M1819 1924h.1M829 1812h.1M1883 1048h.1M599 1302h.1M2037 1221h.1M2043 1438h.1M2034 1233h.1M1383 1204h.1M1442 2031h.1M1549 1119h.1M695 476h.1M1616 940h.1M1095 331h.1M1965 1090h.1M1564 1171h.1M1633 1182h.1M1955 1446h.1M1556 1936h.1M1141 821h.1M1795 1864h.1M1833 1097h.1M1484 1942h.1M1896 1071h.1M966 367h.1M1892 1198h.1M1804 1917h.1M1975 1320h.1M1436 1215h.1M1850 1044h.1M1853 1961h.1M1554 895h.1M1789 1261h.1M1773 1218h.1M1564 1158h.1M1797 1317h.1M1738 1147h.1M1432 962h.1M1860 1206h.1M1635 1268h.1M1711 1217h.1M1816 1449h.1M1826 1386h.1M1878 1466h.1M1164 995h.1M1982 1167h.1M1652 2031h.1M1010 794h.1M907 406h.1M1851 1452h.1M1872 1465h.1M667 1325h.1M1168 880h.1M1924 1159h.1M1568 1099h.1M1836 1399h.1M633 1299h.1M1677 1138h.1M1368 1102h.1M2039 1198h.1M1734 1052h.1M1695 1943h.1M1617 972h.1M620 1297h.1M573 443h.1M1671 1336h.1M1633 1058h.1M1431 903h.1M1477 2068h.1M1691 1166h.1M1493 1069h.1M1042 819h.1M1929 1112h.1M1251 751h.1M1319 870h.1M2019 1446h.1M478 457h.1M1946 276h.1M1696 1025h.1M1630 2063h.1M1838 1949h.1M1665 1226h.1M1138 870h.1M1510 1293h.1M1949 1176h.1M1852 1206h.1M1705 1097h.1M1434 989h.1M2002 1123h.1M1620 1038h.1M1724 1176h.1M1448 1055h.1M1709 948h.1M1475 1002h.1M1967 1182h.1M1665 1193h.1M2011 1222h.1M1645 1217h.1M1850 1422h.1M1924 1381h.1M1374 1131h.1M2015 1115h.1M1700 1994h.1M1829 1943h.1M2013 1215h.1M3192 1031h.1M1751 1336h.1M1835 1940h.1M1852 1958h.1M1655 2036h.1M1439 1124h.1M1741 1126h.1M1550 1285h.1M1082 803h.1M1287 787h.1M631 1334h.1M1607 998h.1M1962 266h.1M1984 1124h.1M1919 1462h.1M1979 252h.1M1059 807h.1M1490 950h.1M1710 1346h.1M1027 313h.1M1658 966h.1M1597 935h.1M1809 983h.1M466 476h.1M1565 1236h.1M1705 1301h.1M1478 859h.1M1980 1473h.1M1485 2071h.1M1185 811h.1M1985 248h.1M1516 1273h.1M1206 816h.1M1577 921h.1M1638 1945h.1M1646 1267h.1M1681 1289h.1M1777 1003h.1M1837 1098h.1M1267 748h.1M1499 1932h.1M1630 1088h.1M599 1283h.1M1962 1478h.1M1840 1436h.1M1573 1152h.1M644 1322h.1M1606 1077h.1M1902 1352h.1M492 446h.1M1634 1959h.1M1734 1338h.1M1926 1387h.1M1617 2037h.1M1535 897h.1M2015 1184h.1M1971 1261h.1M1686 1952h.1M1951 1502h.1M1617 1081h.1M1404 921h.1M2002 1442h.1M1830 1410h.1M804 1827h.1M1498 957h.1M1346 946h.1M1698 1903h.1M1708 2006h.1M1425 992h.1M1167 981h.1M1223 942h.1M1752 955h.1M1739 1394h.1M1940 1173h.1M2010 1442h.1M1582 935h.1M1853 1971h.1M1852 1036h.1M1859 1990h.1M504 481h.1M761 1827h.1M1646 1064h.1M1342 865h.1M1729 2000h.1M666 1319h.1M1549 1373h.1M1675 1998h.1M493 489h.1M1781 1305h.1M444 479h.1M1605 1035h.1M1644 1032h.1M1458 858h.1M1425 1242h.1M1870 1122h.1M1695 1895h.1M564 470h.1M1671 1286h.1M1702 1200h.1M1928 1501h.1M1621 1211h.1M1505 2088h.1M1760 1419h.1M1674 2035h.1M2027 1247h.1M1254 781h.1M1388 934h.1M1651 1978h.1M1201 974h.1M1454 951h.1M1797 1252h.1M1221 945h.1M1963 1479h.1M1777 1916h.1M1758 1972h.1M1456 2054h.1M1721 1866h.1M1265 773h.1M1813 1163h.1M1798 1436h.1M1504 1259h.1M1452 1028h.1M1728 1410h.1M1717 1986h.1M1443 913h.1M1756 990h.1M1260 754h.1M1782 1408h.1M1660 1928h.1M1790 1111h.1M945 367h.1M1469 1963h.1M1620 2051h.1M1921 1486h.1M1398 1062h.1M1418 943h.1M1638 1098h.1M1534 995h.1M1549 2090h.1M1045 827h.1M473 455h.1M1253 893h.1M1797 1440h.1M1278 743h.1M1028 295h.1M988 344h.1M1743 956h.1M2036 1380h.1M977 324h.1M1730 2006h.1M1738 1075h.1M1496 1019h.1M1497 1247h.1M1974 1237h.1M1688 1023h.1M1287 815h.1M1983 1099h.1M1596 2076h.1M1606 1294h.1M1877 1274h.1M1534 1284h.1M2019 1187h.1M1639 1114h.1M1048 795h.1M1423 972h.1M991 305h.1M1384 1020h.1M1619 1280h.1M1734 1348h.1M1671 1126h.1M1404 896h.1M1973 1226h.1M1077 1936h.1M1609 1005h.1M1739 1984h.1M1363 1201h.1M3186 1026h.1M1899 1340h.1M2000 1413h.1M1713 994h.1M1657 1011h.1M1664 1933h.1M1812 1356h.1M1609 2040h.1M1389 837h.1M1996 1155h.1M1511 1926h.1M1270 750h.1M1637 1008h.1M605 1319h.1M683 469h.1M1494 1932h.1M1728 1410h.1M1652 1284h.1M1820 1238h.1M728 1812h.1M1160 823h.1M2001 1324h.1M646 1331h.1M1159 847h.1M1788 1091h.1M1839 1975h.1M1753 1174h.1M1525 1098h.1M1785 1912h.1M576 465h.1M1359 1105h.1M1286 786h.1M1802 1427h.1M1612 1149h.1M1869 1111h.1M1462 866h.1M1682 1146h.1M431 454h.1M1764 1242h.1M1822 1917h.1M1634 993h.1M1494 870h.1M1610 1162h.1M1785 1087h.1"/>
<path stroke="#894747" d="M1706 1249h.1M1644 1974h.1M1852 1090h.1M1054 809h.1M1107 839h.1M1739 1906h.1M1642 1212h.1M1669 2000h.1M1251 730h.1M1827 1442h.1M605 1322h.1M1908 1496h.1M1396 1218h.1M1857 1987h.1M1998 1422h.1M1259 783h.1M1405 947h.1M1413 1030h.1M1712 2019h.1M1764 1307h.1M1883 1180h.1M1038 344h.1M1978 1399h.1M1858 1967h.1M1945 1299h.1M1774 1159h.1M1961 264h.1M1282 746h.1M1581 1236h.1M1210 960h.1M1007 352h.1M1553 2095h.1M1770 1884h.1M978 339h.1M910 402h.1M1807 1053h.1M1739 1428h.1M1809 1431h.1M2005 1110h.1M1392 821h.1M1529 1115h.1M1927 1501h.1M1163 890h.1M1439 1040h.1M1207 895h.1M1411 1100h.1M1620 1235h.1M632 451h.1M1878 1105h.1M1696 2010h.1M1484 844h.1M1958 1328h.1M1845 1950h.1M1876 1152h.1M1676 2042h.1M1796 1907h.1M2015 1115h.1M1563 892h.1M1518 1299h.1M1486 992h.1M1452 842h.1M938 394h.1M692 459h.1M1700 1267h.1M1580 1017h.1M1520 1920h.1M1078 817h.1M1505 890h.1M1405 1048h.1M1618 2020h.1M1043 339h.1M515 444h.1M1557 1377h.1M1911 1315h.1M1642 1946h.1M1877 1497h.1M1678 1192h.1M1921 1416h.1M1600 1171h.1M1573 1060h.1M1742 1988h.1M1803 1917h.1M1731 1308h.1M1935 282h.1M1527 1035h.1M1032 816h.1M2024 1180h.1M1673 2035h.1M580 470h.1M545 445h.1M1720 1412h.1M1750 1913h.1M1622 2067h.1M1420 980h.1M1630 1316h.1M1778 1049h.1M1484 1949h.1M1034 812h.1M1965 1206h.1M2017 1168h.1M1568 1008h.1M1255 957h.1M1896 1227h.1M1260 749h.1M1910 1078h.1M1454 843h.1M1388 1215h.1M1445 1022h.1M1453 1055h.1M1950 274h.1M1478 1069h.1M1830 1240h.1M1557 1216h.1M1363 863h.1M1343 845h.1M1667 1227h.1M1218 727h.1M1037 312h.1M1411 1049h.1M1326 856h.1M1813 1245h.1M1617 2050h.1M540 436h.1M1215 942h.1M1458 1981h.1M1971 256h.1M1788 1449h.1M1348 983h.1M1797 1286h.1M1579 1170h.1M1447 1993h.1M1067 857h.1M1022 814h.1M618 478h.1M1941 1347h.1M1451 971h.1M1811 1107h.1M1801 1186h.1M963 334h.1M1858 1972h.1M1831 2002h.1M1189 977h.1M686 1319h.1M1042 813h.1M648 1326h.1M1670 945h.1M1912 1338h.1M959 342h.1M1614 1144h.1M1533 1113h.1M1760 1072h.1M1489 1139h.1M1540 1187h.1M1392 1114h.1M1981 1474h.1M1088 333h.1M1628 899h.1M1699 1218h.1M1976 254h.1M1335 876h.1M1436 2023h.1M1481 846h.1M1728 977h.1M1518 1955h.1M1126 867h.1M1539 902h.1M1386 956h.1M1613 996h.1M510 454h.1M1561 1208h.1M1535 1339h.1M526 440h.1M1919 1097h.1M1637 1945h.1M1450 1108h.1M1436 1112h.1M1765 1284h.1M785 1812h.1M1344 867h.1M1845 1230h.1M1551 1167h.1M1828 1024h.1M1692 948h.1M1417 966h.1M1169 840h.1M1579 1119h.1M1178 969h.1M1739 1284h.1M1450 1988h.1M1990 1393h.1M1427 933h.1M1887 1179h.1M1771 1313h.1M1707 1258h.1M1929 1377h.1M1723 1893h.1M1057 297h.1M1529 1251h.1M1701 1243h.1M499 457h.1M1262 780h.1M1571 1380h.1M1971 1254h.1M1628 1173h.1M1448 992h.1M968 366h.1M1852 1118h.1M1375 1105h.1M1485 974h.1M1613 2038h.1M1444 1071h.1M1584 972h.1M1824 1932h.1M1752 1008h.1M1792 1239h.1M1318 967h.1M857 1800h.1M1197 977h.1M1816 1463h.1M1555 1164h.1M1403 1235h.1M1689 1029h.1M1564 1350h.1M2019 1451h.1M1173 878h.1M1817 1127h.1M1438 1007h.1M1473 2036h.1M1924 1483h.1M1529 2088h.1M1627 1072h.1M1753 1359h.1M1948 1199h.1M1434 1121h.1M1622 1196h.1M819 1802h.1M1709 1365h.1M1802 1274h.1M1989 1466h.1M1392 1202h.1M1565 997h.1M1853 1978h.1M1625 1053h.1M1658 1026h.1M1760 1082h.1M1552 1275h.1M1196 839h.1M611 1293h.1M1775 980h.1M1047 803h.1M1495 1055h.1M1557 1152h.1M1599 893h.1M1177 890h.1M1890 1269h.1M1474 1100h.1M1492 938h.1M1606 905h.1M1899 1202h.1M1514 1214h.1M1717 1983h.1M1634 1299h.1M1536 1273h.1M1719 937h.1M1472 2052h.1M1560 1386h.1M1710 1286h.1M644 475h.1M1849 1996h.1M1707 1242h.1M908 401h.1M1864 1089h.1M1562 884h.1M2049 1374h.1M724 1829h.1M1853 1976h.1M1622 1349h.1M1430 1230h.1M1674 2037h.1M1641 1008h.1M1257 739h.1M1555 1151h.1M1494 979h.1"/>
<path stroke="#8a4343" d="M1369 1205h.1M1763 1941h.1M1520 941h.1M1110 813h.1M511 447h.1M1973 1491h.1M1553 1103h.1M1655 1061h.1M1448 1224h.1M1545 1063h.1M2020 1409h.1M3192 1028h.1M3204 1028h.1M1727 1410h.1M1169 995h.1M1266 741h.1M1516 973h.1M1941 1444h.1M1865 1283h.1M1799 1042h.1M1440 2024h.1M1498 1951h.1M1783 1994h.1M1753 1284h.1M1900 1346h.1M1352 841h.1M2006 1129h.1M1919 1236h.1M1242 784h.1M1657 1067h.1M1129 864h.1M1723 1906h.1M1381 839h.1M1658 1302h.1M1620 925h.1M1445 1076h.1M1814 1153h.1M1634 2068h.1M1444 850h.1M1823 1129h.1M1837 1123h.1M1457 952h.1M1862 1096h.1M1717 1120h.1M1675 1153h.1M985 373h.1M1933 1188h.1M1401 1213h.1M1583 1362h.1M503 464h.1M1811 1239h.1M1209 810h.1M1385 899h.1M1499 978h.1M2038 1436h.1M1359 933h.1M1030 826h.1M1477 941h.1M1414 970h.1M1971 1454h.1M1423 881h.1M1595 1127h.1M1858 1974h.1M1170 878h.1M1557 2088h.1M1455 1214h.1M1622 1316h.1M602 1313h.1M1367 993h.1M2029 1388h.1M1191 965h.1M1579 891h.1M916 394h.1M1868 1141h.1M1888 1301h.1M1697 1224h.1M525 449h.1M1696 1246h.1M1975 1460h.1M850 1810h.1M1706 1909h.1M1529 2014h.1M1722 2017h.1M1774 1093h.1M1764 1345h.1M1516 1266h.1M1981 1330h.1M1570 2055h.1M1885 1393h.1M1879 1374h.1M1866 1050h.1M1146 807h.1M638 471h.1M1241 735h.1M1994 1204h.1M1248 741h.1M1565 1000h.1M1576 1378h.1M611 1309h.1M1647 1976h.1M1810 1191h.1M1970 1096h.1M1434 1268h.1M1866 1068h.1M1572 2053h.1M1157 895h.1M770 1819h.1M1784 1026h.1M1611 919h.1M1833 1231h.1M1436 1076h.1M2010 1186h.1M1410 1099h.1M1555 1268h.1M1981 1154h.1M1777 1205h.1M652 1327h.1M1948 274h.1M1548 964h.1M1744 1185h.1M1915 1217h.1M1627 1027h.1M1089 328h.1M1066 330h.1M1368 987h.1M775 1814h.1M932 396h.1M1111 856h.1M2029 1215h.1M1444 983h.1M1502 963h.1M1501 937h.1M1535 978h.1M1082 828h.1M1866 1288h.1M1344 1107h.1M1534 1053h.1M1544 873h.1M1269 745h.1M1727 1096h.1M2013 1388h.1M1444 2004h.1M1690 1206h.1M1913 1422h.1M1689 2038h.1M1594 1349h.1M1473 2039h.1M1828 1934h.1M1424 1123h.1M1965 1162h.1M1976 1453h.1M1517 1205h.1M1672 1919h.1M1613 1065h.1M1630 2063h.1M2010 1436h.1M1903 1189h.1M2007 1209h.1M1823 1928h.1M1674 1363h.1M1877 1470h.1M1628 933h.1M1586 1042h.1M1944 1241h.1M527 467h.1M637 453h.1M1501 1219h.1M1992 1108h.1M696 468h.1M675 1310h.1M1282 772h.1M1833 1112h.1M1728 1103h.1M1549 1255h.1M1841 1191h.1M2021 1194h.1M1009 301h.1M1740 1320h.1M1654 1190h.1M1040 795h.1M1252 723h.1M1701 1934h.1M1584 1214h.1M1253 733h.1M1391 1129h.1M1712 1008h.1M1201 861h.1M1458 833h.1M1744 1298h.1M1178 973h.1M1765 1120h.1M517 461h.1M1892 1130h.1M1363 1114h.1M1695 1950h.1M1789 1083h.1M1423 901h.1M752 1823h.1M1553 970h.1M1965 263h.1M1710 1045h.1M1464 1247h.1M1750 1372h.1M1951 1431h.1M1180 987h.1M1790 1217h.1M1852 1168h.1M1680 1374h.1M1816 1301h.1M1818 1205h.1M1654 994h.1M1590 1074h.1M1461 1038h.1M1039 824h.1M1823 1216h.1M1220 784h.1M1609 917h.1M1450 2001h.1M1813 1268h.1M1781 1047h.1M1648 986h.1M611 1325h.1M1560 1267h.1M2038 1430h.1M1447 833h.1M834 1800h.1M1662 1245h.1M1791 1047h.1M1537 2084h.1M600 471h.1M835 1815h.1M1699 1195h.1M1777 1989h.1M610 1319h.1M1583 958h.1M777 1837h.1M572 1316h.1M1788 1905h.1M1679 938h.1M1724 1989h.1M1705 1290h.1M1670 1180h.1M1650 1938h.1M1981 1175h.1M1797 1153h.1M1749 1982h.1M1631 2061h.1M1382 1116h.1M1811 1033h.1M2057 1181h.1M1599 968h.1M1420 1093h.1M626 1323h.1M1933 1241h.1M1614 2022h.1M1556 1025h.1M1638 1949h.1M1626 2053h.1M1965 1128h.1M1812 1169h.1M2013 1225h.1M1552 987h.1M1379 958h.1M1536 2097h.1M1015 310h.1M1872 1070h.1M1772 1913h.1M857 1810h.1M517 470h.1M1190 854h.1M2015 1226h.1M1188 815h.1M1041 806h.1M1347 1188h.1M1681 1362h.1M1667 1081h.1M2005 1226h.1M1849 1192h.1M1627 1137h.1M1808 1021h.1M1715 1900h.1M1908 1241h.1M1933 1233h.1M1423 1260h.1M1834 1090h.1M1741 1102h.1M1514 1936h.1M1755 1212h.1M1562 1152h.1M1853 1076h.1M1431 837h.1M1366 929h.1M1640 1939h.1"/>
<path stroke="#8a3e3e" d="M1460 2053h.1M1862 1980h.1M1909 1205h.1M950 372h.1M565 455h.1M1461 1108h.1M1237 952h.1M1360 1029h.1M1466 2052h.1M1387 871h.1M1873 1153h.1M1876 1344h.1M1513 2094h.1M1925 1151h.1M1863 1282h.1M1864 1197h.1M1671 932h.1M1428 978h.1M1571 950h.1M1952 1193h.1M1163 980h.1M1917 1449h.1M1617 2051h.1M1863 1982h.1M1551 1269h.1M1466 1290h.1M1737 1898h.1M1857 1979h.1M1936 1521h.1M727 1823h.1M1752 1967h.1M1980 1330h.1M1382 841h.1M1641 1942h.1M813 1805h.1M1884 1070h.1M1846 1976h.1M1762 1246h.1M1908 1328h.1M1586 933h.1M1703 1081h.1M1554 2031h.1M1941 1463h.1M1135 822h.1M1250 746h.1M1751 1009h.1M1766 1271h.1M1150 994h.1M1585 953h.1M629 459h.1M1873 1140h.1M1635 913h.1M1652 1970h.1M1545 897h.1M1382 1113h.1M1660 1187h.1M1707 1067h.1M1809 1162h.1M1985 1418h.1M1851 1989h.1M1949 1365h.1M1944 1198h.1M3175 1011h.1M1991 1481h.1M1856 1993h.1M1662 1221h.1M1484 1296h.1M1504 1044h.1M1462 827h.1M1113 852h.1M1899 1281h.1M1792 1224h.1M1261 744h.1M1619 1301h.1M1628 1260h.1M1830 1937h.1M1550 1168h.1M1645 1274h.1M1961 1425h.1M1444 966h.1M1995 1228h.1M1446 1041h.1M1675 1265h.1M617 1324h.1M1531 1012h.1M1446 1109h.1M1197 967h.1M1726 1069h.1M1691 1039h.1M1702 1369h.1M1037 820h.1M1694 1092h.1M1239 721h.1M1790 1435h.1M1738 1866h.1M1694 1010h.1M2029 1443h.1M1844 1196h.1M1784 1171h.1M1427 930h.1M1476 1192h.1M1833 1940h.1M1582 1127h.1M1945 1442h.1M1950 271h.1M1787 1060h.1M1881 1211h.1M1185 963h.1M667 1335h.1M1660 1293h.1M1667 2038h.1M2045 1427h.1M2002 1201h.1M1675 1280h.1M1615 1211h.1M1603 892h.1M1646 1212h.1M1021 802h.1M1737 1372h.1M1702 1152h.1M1527 1287h.1M1510 2084h.1M1450 979h.1M1670 2005h.1M1483 1012h.1M1577 1237h.1M2043 1178h.1M1964 1424h.1M1142 858h.1M1150 881h.1M1645 1318h.1M542 442h.1M1640 1009h.1M1585 1170h.1M1296 986h.1M2002 1183h.1M1608 1141h.1M604 451h.1M1756 1090h.1M1889 1115h.1M1224 937h.1M1734 1163h.1M1701 1016h.1M1396 903h.1M2004 1149h.1M1943 1097h.1M1971 259h.1M643 463h.1M584 1312h.1M1817 1276h.1M1448 1197h.1M1638 1077h.1M1883 1151h.1M1393 852h.1M1814 1443h.1M1773 997h.1M1623 1113h.1M1366 929h.1M1649 1161h.1M1067 323h.1M1420 1231h.1M1640 1197h.1M1487 843h.1M1919 1226h.1M1660 2046h.1M1110 833h.1M1974 256h.1M1536 1279h.1M1045 310h.1M1514 899h.1M1729 1239h.1M600 1278h.1M1147 817h.1M550 439h.1M1449 829h.1M1978 1295h.1M2003 1138h.1M1898 1497h.1M1642 1171h.1M1498 1980h.1M1803 1074h.1M1143 817h.1M1788 1075h.1M1927 1248h.1M1439 966h.1M1705 1201h.1M1935 1073h.1M1193 978h.1M1999 1411h.1M1648 1983h.1M1770 1350h.1M1195 974h.1M1811 1997h.1M1427 840h.1M1323 885h.1M1787 979h.1M1518 1057h.1M1685 1915h.1M1427 964h.1M1873 1118h.1M1991 1220h.1M1959 1477h.1M1729 1430h.1M1861 1220h.1M1775 1171h.1M1940 1385h.1M1949 273h.1M1821 1186h.1M1464 2047h.1M815 1823h.1M1653 2024h.1M1845 1054h.1M1449 1282h.1M1244 729h.1M1845 1187h.1M1841 1140h.1M1757 1228h.1M2012 1422h.1M1893 1495h.1M1450 913h.1M1644 1951h.1M1550 1098h.1M1497 1968h.1M1860 1986h.1M611 455h.1M1716 1393h.1M1387 827h.1M1965 261h.1M1366 1107h.1M1706 958h.1M1649 1260h.1M1769 1213h.1M1810 1045h.1M2045 1211h.1M1800 988h.1M1920 1478h.1M2010 1197h.1M1923 1218h.1M1763 1359h.1M1976 1117h.1M1973 1234h.1M1959 1183h.1M672 1340h.1M1785 1262h.1M1854 1378h.1M1523 1192h.1M1503 992h.1M1560 1128h.1M1577 1336h.1M1725 944h.1M1640 1046h.1M1457 901h.1M1389 1212h.1M1194 959h.1M1681 2012h.1M1594 1144h.1M1728 951h.1M1905 1173h.1M1524 1279h.1M1803 1275h.1M1748 990h.1M1788 969h.1M1663 943h.1M1596 1234h.1M1375 817h.1M1688 993h.1M1716 1937h.1M1889 1410h.1M2036 1185h.1M1180 973h.1M1496 2075h.1M1027 321h.1M1584 1233h.1M1165 993h.1M3194 1016h.1M1935 1501h.1M431 465h.1M1630 1165h.1"/>
<path stroke="#8b3a3a" d="M1415 981h.1M1197 803h.1M1763 1136h.1M1137 812h.1M1350 850h.1M1744 1322h.1M1770 1074h.1M431 462h.1M1902 1280h.1M1651 978h.1M1615 942h.1M1442 2012h.1M1051 819h.1M1270 739h.1M1654 935h.1M1718 1383h.1M1620 1049h.1M1774 1331h.1M1279 750h.1M1597 1029h.1M1845 1988h.1M1504 1250h.1M1669 2023h.1M1941 1223h.1M1776 1150h.1M1098 841h.1M2034 1187h.1M1263 898h.1M1721 1901h.1M1953 1501h.1M1683 1209h.1M1217 950h.1M1831 1421h.1M1419 825h.1M1757 1234h.1M1763 1171h.1M1233 727h.1M1700 1269h.1M1659 915h.1M1750 1096h.1M1495 1296h.1M1756 1909h.1M1967 1193h.1M1275 744h.1M1835 1293h.1M1784 1174h.1M1277 775h.1M1765 1127h.1M1990 1255h.1M1774 970h.1M1700 1186h.1M1822 1192h.1M1568 1363h.1M1856 1981h.1M1383 875h.1M1840 1361h.1M1830 1069h.1M2003 1214h.1M1799 1208h.1M1842 1952h.1M1560 1223h.1M1557 1113h.1M1844 1094h.1M2031 1425h.1M1578 909h.1M1991 1298h.1M1619 1123h.1M1174 982h.1M1839 1957h.1M1573 1252h.1M1453 854h.1M1996 1424h.1M1682 2009h.1M1634 1365h.1M1888 1459h.1M1427 1016h.1M1228 721h.1M778 1821h.1M1268 783h.1M1246 725h.1M1714 1843h.1M1665 2005h.1M1622 899h.1M1592 2042h.1M1670 1178h.1M1649 935h.1M1636 1154h.1M1779 963h.1M1417 828h.1M1871 1085h.1M1376 847h.1M1688 1999h.1M1711 2019h.1M1778 1315h.1M1616 1297h.1M1637 1955h.1M1619 1190h.1M1670 1141h.1M783 1838h.1M1420 1247h.1M1676 1066h.1M1604 2038h.1M1600 1014h.1M1517 1295h.1M1268 734h.1M1715 1352h.1M1791 1258h.1M1554 2077h.1M1809 1138h.1M1694 995h.1M1929 1191h.1M1528 1924h.1M1605 1174h.1M1692 1940h.1M1501 2081h.1M1992 1283h.1M1585 1375h.1M1694 1043h.1M1414 939h.1M1727 1021h.1M1948 1447h.1M1423 1083h.1M2000 1406h.1M1389 976h.1M1687 1283h.1M1162 805h.1M1930 1198h.1M1623 1016h.1M1343 1188h.1M1084 1938h.1M1854 1128h.1M1886 1126h.1M1185 971h.1M1953 1485h.1M1402 988h.1M1646 1150h.1M1725 1883h.1M1951 1086h.1M1691 2017h.1M1755 1040h.1M1613 1026h.1M1385 1206h.1M1664 1266h.1M613 1330h.1M1993 1283h.1M1170 813h.1M1501 2042h.1M1369 1198h.1M1605 978h.1M1506 1256h.1M1904 1388h.1M1818 1032h.1M1471 831h.1M1989 1173h.1M1915 1476h.1M1716 1229h.1M1789 1316h.1M1953 1481h.1M1702 1902h.1M1522 1311h.1M1447 2016h.1M1994 1162h.1M1543 1125h.1M1768 983h.1M1232 718h.1M1819 1295h.1M1743 1076h.1M1573 965h.1M1848 1186h.1M1746 1087h.1M1728 1902h.1M1731 1186h.1M1928 1421h.1M1957 1300h.1M1998 1461h.1M1178 991h.1M1994 1399h.1M1403 1043h.1M1563 1216h.1M1979 1204h.1M1725 1191h.1M794 1824h.1M1402 970h.1M1945 1408h.1M1631 967h.1M1159 830h.1M1982 1479h.1M1722 1371h.1M2012 1449h.1M1931 1365h.1M782 1823h.1M1719 1300h.1M1655 1207h.1M1802 1462h.1M1036 807h.1M1474 1096h.1M1581 1102h.1M1961 1177h.1M1674 1059h.1M1956 269h.1M1169 987h.1M1578 1177h.1M1252 948h.1M1945 1267h.1M1446 869h.1M1686 1171h.1M1622 1243h.1M512 471h.1M1722 1220h.1M1184 970h.1M1651 1159h.1M1805 1052h.1M1734 969h.1M1487 904h.1M1512 917h.1"/>
<path stroke="#923d3d" d="M1748 1965h.1M1266 751h.1M1143 812h.1M1674 1922h.1M1408 1045h.1M1612 2071h.1M1779 1281h.1M1638 1174h.1M1931 1449h.1M1498 863h.1M1725 1165h.1M1999 1134h.1M1835 1311h.1M1858 1053h.1M1816 1237h.1M1492 1034h.1M1637 1218h.1M1266 784h.1M574 444h.1M603 1296h.1M1699 2030h.1M1416 990h.1M1823 1985h.1M1559 911h.1M1553 1179h.1M1892 1106h.1M2025 1428h.1M1496 941h.1M2015 1172h.1M1160 990h.1M1151 996h.1M1214 942h.1M1682 917h.1M1880 1130h.1M1906 1146h.1M1647 1059h.1M1471 965h.1M1445 2028h.1M1462 1052h.1M1496 928h.1M1271 751h.1M1058 813h.1M1732 1055h.1M2006 1344h.1M2040 1419h.1M1158 805h.1M1233 938h.1M1804 1005h.1M1389 913h.1M1587 1187h.1M1544 894h.1M2044 1414h.1M2010 1123h.1M1441 826h.1M1993 1491h.1M1259 755h.1M1578 1048h.1M637 448h.1M1651 2051h.1M1952 272h.1M624 469h.1M1952 1127h.1M1397 837h.1M1379 1045h.1M1697 1076h.1M1910 1105h.1M1398 1052h.1M1708 1374h.1M1453 1986h.1M1404 842h.1M1689 1383h.1M1633 1934h.1M1413 955h.1M1346 1175h.1M1615 979h.1M1362 1109h.1M1688 1294h.1M1819 1234h.1M1768 1101h.1M1945 1214h.1M959 415h.1M1718 1864h.1M1982 1454h.1M1665 2025h.1M1693 1120h.1M1957 1389h.1M1151 993h.1M2034 1179h.1M1223 942h.1M504 439h.1M1845 1275h.1M2045 1380h.1M1936 1253h.1M2017 1387h.1M1405 1046h.1M1901 1407h.1M1398 1210h.1M1700 1059h.1M1733 1855h.1M1617 2072h.1M1710 2005h.1M1974 1444h.1M1722 1979h.1M1369 828h.1M1709 1901h.1M1500 2070h.1M1386 822h.1M1930 1254h.1M1467 942h.1M1488 1302h.1M1582 1375h.1M1927 1503h.1M1659 1993h.1M1988 1290h.1M1485 924h.1M974 339h.1M1764 1910h.1M976 383h.1M1190 834h.1M1474 1182h.1M1466 847h.1M1657 2056h.1M2005 1467h.1M782 1823h.1M1657 1933h.1M1242 735h.1M2002 1108h.1M438 453h.1M1957 1300h.1M1633 1047h.1M678 1316h.1M1822 1293h.1M799 1813h.1M1887 1212h.1M1519 965h.1M650 471h.1M1833 1018h.1M1847 1455h.1M1505 957h.1M1844 1984h.1M1504 1266h.1M1892 1229h.1M1480 1950h.1M1773 1183h.1M1893 1098h.1M1463 1956h.1M1680 1924h.1M1931 1513h.1M1556 1056h.1M1248 737h.1M1350 1185h.1M1586 1233h.1M1753 1979h.1M1270 754h.1M1791 1434h.1M806 1809h.1M1597 1022h.1M1846 1963h.1M1453 880h.1M1638 1240h.1M1838 1134h.1M1744 1023h.1M1780 1252h.1M1787 1130h.1M1730 1417h.1M938 373h.1M1645 1952h.1M1719 1423h.1M1449 1001h.1M1040 802h.1M1696 939h.1M1643 981h.1M1370 1105h.1M1907 1232h.1M2029 1238h.1"/>
<path stroke="#9a4040" d="M588 1334h.1M536 479h.1M1971 1384h.1M1908 1253h.1M1448 2031h.1M1797 1206h.1M785 1828h.1M1508 1950h.1M1938 1263h.1M2002 1423h.1M1713 1905h.1M1608 1018h.1M1874 1171h.1M2046 1383h.1M1783 1981h.1M1379 1209h.1M1785 984h.1M1986 1200h.1M520 452h.1M604 1276h.1M1404 1122h.1M1610 988h.1M1706 1277h.1M1645 1935h.1M1715 1092h.1M1869 1192h.1M1784 1116h.1M1881 1337h.1M1770 1415h.1M1595 1140h.1M1254 729h.1M1417 1237h.1M1396 974h.1M1889 1247h.1M1817 1371h.1M1643 1182h.1M1927 1160h.1M1937 1202h.1M1703 1139h.1M1099 1925h.1M1228 938h.1M748 1826h.1M1870 1065h.1M1764 1330h.1M2030 1420h.1M1859 1226h.1M1500 972h.1M1663 1987h.1M1990 1457h.1M1959 1485h.1M1678 976h.1M833 1819h.1M1433 1115h.1M1788 994h.1M1803 1414h.1M1036 813h.1M765 1827h.1M1752 959h.1M1656 1165h.1M1709 988h.1M1871 1365h.1M1602 2079h.1M1569 2049h.1M1856 1994h.1M1679 983h.1M1692 1905h.1M1747 1349h.1M1957 1503h.1M1700 983h.1M1487 2029h.1M1956 1398h.1M1826 1061h.1M1524 1093h.1M1984 1247h.1M1851 1309h.1M1870 1057h.1M1995 1153h.1M1615 1101h.1M1899 1350h.1M1286 748h.1M2065 1174h.1M1497 1090h.1M520 466h.1M1881 1492h.1M1683 995h.1M1140 863h.1M1891 1493h.1M1804 1384h.1M1851 1079h.1M1856 1152h.1M1684 1068h.1M1870 1282h.1M1839 1432h.1M1439 935h.1M1849 1982h.1M2048 1378h.1M1741 1992h.1M1384 1118h.1M1414 964h.1M1727 1296h.1M1890 1082h.1M1990 1419h.1M1481 1256h.1M1171 978h.1M2051 1407h.1M1201 956h.1M1595 1120h.1M1452 1132h.1M1719 1207h.1M1964 1376h.1M1471 1286h.1M1715 1394h.1M1591 940h.1M1039 831h.1M1268 740h.1M1822 1198h.1M1589 1094h.1M1974 1192h.1M1575 1936h.1M1695 2018h.1"/>
<path stroke="#a14343" d="M1678 1088h.1M1621 1063h.1M1019 791h.1M1983 1183h.1M1783 1152h.1M1990 1442h.1M1779 1000h.1M1560 1362h.1M1958 1462h.1M1537 1216h.1M1646 953h.1M1959 1492h.1M1585 944h.1M1444 1258h.1M1556 1371h.1M1673 1372h.1M1851 1440h.1M1519 1256h.1M1192 959h.1M1688 1102h.1M1730 1225h.1M1964 1472h.1M1440 973h.1M488 453h.1M2050 1157h.1M1600 1181h.1M1150 996h.1M1434 2028h.1M1995 1381h.1M1559 1039h.1M1685 1010h.1M1681 2032h.1M1578 951h.1M1379 926h.1M1453 840h.1M1681 936h.1M1942 1191h.1M1150 876h.1M1614 948h.1M1002 799h.1M1734 1181h.1M1720 1170h.1M1473 891h.1M1790 1032h.1M1719 1348h.1M1825 1163h.1M1545 1132h.1M1574 984h.1M1990 1435h.1M1373 924h.1M1104 311h.1M1692 979h.1M1716 1992h.1M1700 1202h.1M1743 1899h.1M1618 1202h.1M1763 1330h.1M2008 1166h.1M1367 823h.1M1386 941h.1M1700 2008h.1M1023 801h.1M1707 1218h.1M1689 2035h.1M1933 1507h.1M776 1835h.1M1649 943h.1M1501 969h.1M1401 1141h.1M1842 1239h.1M2012 1136h.1M1926 1216h.1M1965 1386h.1M1054 799h.1M1740 1198h.1M1170 975h.1M1839 1452h.1M1591 927h.1M1395 827h.1M1400 1123h.1M1642 1226h.1M1510 1019h.1M1924 1194h.1M1237 724h.1M1339 1178h.1M1845 1995h.1M1566 1367h.1"/>
<path stroke="#a84646" d="M1239 729h.1M1186 978h.1M1518 1927h.1M1916 1504h.1M1610 912h.1M1912 1360h.1M996 365h.1M1486 1226h.1M1648 1167h.1M1831 1284h.1M1767 1345h.1M1773 1198h.1M1681 2011h.1M1832 1070h.1M1700 1212h.1M1459 993h.1M3179 1014h.1M1488 1095h.1M1571 1037h.1M1622 2046h.1M1430 981h.1M2006 1226h.1M1400 1228h.1M1499 870h.1M1225 723h.1M1653 1003h.1M1956 1290h.1M1764 1020h.1M1987 246h.1M1396 1015h.1M2022 1395h.1M1740 1223h.1M1404 1136h.1M1025 795h.1M1255 740h.1M1474 970h.1M1855 1235h.1M1802 1137h.1M1745 1016h.1M1352 1104h.1M1619 2072h.1M1970 1391h.1M573 1307h.1M1433 1058h.1M1620 1169h.1M1967 260h.1M1726 1989h.1M1810 1010h.1M1724 1144h.1M1539 1926h.1M1442 1114h.1M1902 1343h.1M1320 785h.1M1485 1979h.1M1377 835h.1M1412 960h.1M1574 884h.1M1656 1249h.1M2043 1377h.1"/>
<path stroke="#af4949" d="M1983 1156h.1M1660 1035h.1M1201 816h.1M1446 841h.1M1706 1337h.1M721 1818h.1M1683 912h.1M1845 1133h.1M1808 1384h.1M1951 1517h.1M1928 1251h.1M1178 982h.1M1527 1116h.1M1012 798h.1M1726 1875h.1M1404 845h.1M1780 1993h.1M1713 1237h.1M1339 1180h.1M1760 1007h.1M1868 1302h.1M1741 1041h.1M1556 939h.1M1389 934h.1M2010 1178h.1M1650 2044h.1M1456 1221h.1M1741 1014h.1M1834 1055h.1M1568 1362h.1M1380 960h.1M1783 1336h.1M1497 1268h.1M1934 1467h.1M1898 1479h.1M838 1808h.1M1788 1038h.1M1599 1078h.1M1243 721h.1M1849 1958h.1M1951 1173h.1M2024 1143h.1M1502 1020h.1M1887 1503h.1M662 1282h.1M1857 1285h.1M1699 1076h.1M1422 924h.1M1209 961h.1M1647 939h.1M1933 1297h.1M1447 979h.1M1688 1314h.1M1753 1367h.1M1757 1044h.1M1385 814h.1M1973 1502h.1M1883 1117h.1M1788 969h.1M1321 792h.1"/>
<path stroke="#b64c4c" d="M1972 1198h.1M1704 1021h.1M1452 895h.1M1710 942h.1M1657 1250h.1M1521 1274h.1M1934 1482h.1M1377 824h.1M1897 1317h.1M1283 755h.1M1480 1089h.1M1953 1235h.1M1611 1286h.1M1467 1218h.1M2022 1211h.1M1610 2076h.1M1528 1068h.1M1975 1409h.1M1468 2027h.1M1814 1289h.1M1661 1346h.1M1667 2000h.1M1223 728h.1M1591 1030h.1M1617 1326h.1M791 1834h.1M1696 1339h.1M1765 1908h.1"/>
<path stroke="#be4f4f" d="M1645 1258h.1M1835 1468h.1M1094 1927h.1M1705 2007h.1M1760 1904h.1M1741 1976h.1M1806 1429h.1M1554 975h.1M1724 1380h.1M1916 1348h.1M1641 2034h.1M1605 1938h.1M1486 1931h.1M1535 1035h.1M2025 1450h.1M1512 1185h.1M1871 1130h.1M1691 1070h.1M1589 1134h.1M1956 1432h.1M1372 935h.1M647 1283h.1M1470 1961h.1M1685 2037h.1"/>
<path stroke="#c55252" d="M1440 1107h.1M1994 1142h.1M1483 1194h.1M3168 1008h.1M1967 262h.1M1872 1107h.1M1917 1062h.1M1507 1282h.1M1700 947h.1M1907 1491h.1M1656 1987h.1M1092 1934h.1M1850 1028h.1M1789 1070h.1M1650 1186h.1"/>
<path stroke="#cc5555" d="M1741 1323h.1M1520 1954h.1M1855 1073h.1M1230 938h.1M2014 1393h.1M1642 1951h.1M1410 1132h.1M1659 1379h.1M1674 2013h.1M1648 1977h.1M1619 1931h.1M1418 857h.1"/>
<path stroke="#d45858" d="M1615 898h.1M1735 1253h.1M1845 1032h.1M1675 1047h.1M1475 904h.1M1809 1014h.1M1214 943h.1M1204 852h.1M1991 1478h.1M1133 821h.1M1546 1263h.1M2019 1210h.1M1983 1169h.1M1486 1077h.1M1516 2085h.1M1594 923h.1M1285 797h.1M1033 811h.1M1783 1339h.1M1771 1101h.1M1480 1263h.1M1961 1441h.1M1881 1466h.1M1501 1039h.1M1894 1393h.1"/>
<path stroke="#db5b5b" d="M1810 1301h.1M3200 1029h.1M1200 962h.1M1836 1968h.1M723 467h.1M1503 2081h.1M1751 1320h.1M1689 1104h.1M1195 842h.1M1410 957h.1M1584 1334h.1M969 402h.1M1980 1430h.1M3184 1019h.1M1722 1855h.1M852 1798h.1M674 1321h.1M1483 2070h.1M1479 2059h.1M1970 1380h.1M1086 1936h.1M1723 2005h.1M1453 973h.1M1722 1276h.1M1979 252h.1M620 1295h.1M792 1812h.1M762 1820h.1M1516 935h.1M1650 2053h.1M1182 980h.1"/>
<path stroke="#e25e5e" d="M1797 1251h.1M1955 1273h.1M2014 1400h.1M1715 953h.1M919 401h.1M1955 1300h.1M493 459h.1M1798 1159h.1M1675 1289h.1M1774 1042h.1M1852 1185h.1M1730 1899h.1M626 1332h.1M1852 1087h.1M1858 1110h.1M1639 1117h.1M1441 1039h.1M1892 1047h.1M1198 822h.1M1694 1842h.1M1904 1481h.1M1445 977h.1M1645 1957h.1M1817 1133h.1M1610 2032h.1"/>
<path stroke="#e96161" d="M1723 1123h.1M1489 945h.1M1477 1200h.1M1380 1127h.1M1907 1407h.1M954 341h.1M1781 1916h.1M1823 1000h.1M1655 953h.1M1544 1243h.1M985 344h.1M1257 724h.1M1917 1165h.1M1634 995h.1M1164 993h.1M1773 1913h.1"/>
<path stroke="#f16464" d="M1806 1921h.1M1708 2030h.1M1622 1359h.1M1810 1325h.1M1742 1232h.1M1993 1472h.1M1607 902h.1M1080 1929h.1M1545 1032h.1M1988 1262h.1M1624 1172h.1M2037 1163h.1M730 1814h.1M1938 1158h.1M1993 1198h.1M1435 852h.1M1936 285h.1M1465 945h.1M1192 902h.1M937 377h.1M1952 1153h.1M1572 1183h.1M2040 1198h.1"/>
<path stroke="#f86767" d="M1456 2006h.1M1899 1389h.1M1383 1110h.1M1908 1065h.1M1638 1250h.1M1395 921h.1M1033 797h.1M1595 1043h.1M2017 1197h.1M1623 1197h.1M2058 1170h.1M1056 332h.1M1536 1078h.1M2017 1225h.1M1044 335h.1M1567 1106h.1M973 422h.1"/>
<path stroke="#ff6a6a" d="M1937 1222h.1M1558 877h.1M2002 1168h.1M1919 1446h.1M1489 987h.1M1846 1070h.1M1444 886h.1M438 476h.1M1934 1199h.1M1550 1346h.1M1388 1005h.1M1502 1936h.1M1940 1074h.1M858 1802h.1"/>
<path stroke="#ff6f73" d="M982 398h.1M1374 1011h.1M1800 1173h.1M1185 850h.1M1383 818h.1M1569 1337h.1M1897 1089h.1M1860 1298h.1M1157 818h.1"/>
<path stroke="#ff747d" d="M1141 882h.1"/>
<path stroke="#ff7986" d="M1785 1375h.1M682 1338h.1M1058 311h.1M1459 1967h.1"/>
<path stroke="#ff7e8f" d="M1533 1182h.1M826 1816h.1M1660 1083h.1"/>
<path stroke="#ff8399" d="M1816 1921h.1M1488 1939h.1M1930 1107h.1"/>
<path stroke="#ff88a2" d="M1783 1183h.1"/>
<path stroke="#ff8dab" d="M1440 2021h.1"/>
<path stroke="#ff92b4" d="M1777 1320h.1"/>
<path stroke="#ff98be" d="M1274 772h.1M1775 1347h.1M1548 1265h.1"/>
<path stroke="#ff9dc7" d="M1863 1168h.1"/>
<path stroke="#ffb6f6" d="M1690 1168h.1"/>
</g>
</svg>
</body></html>
